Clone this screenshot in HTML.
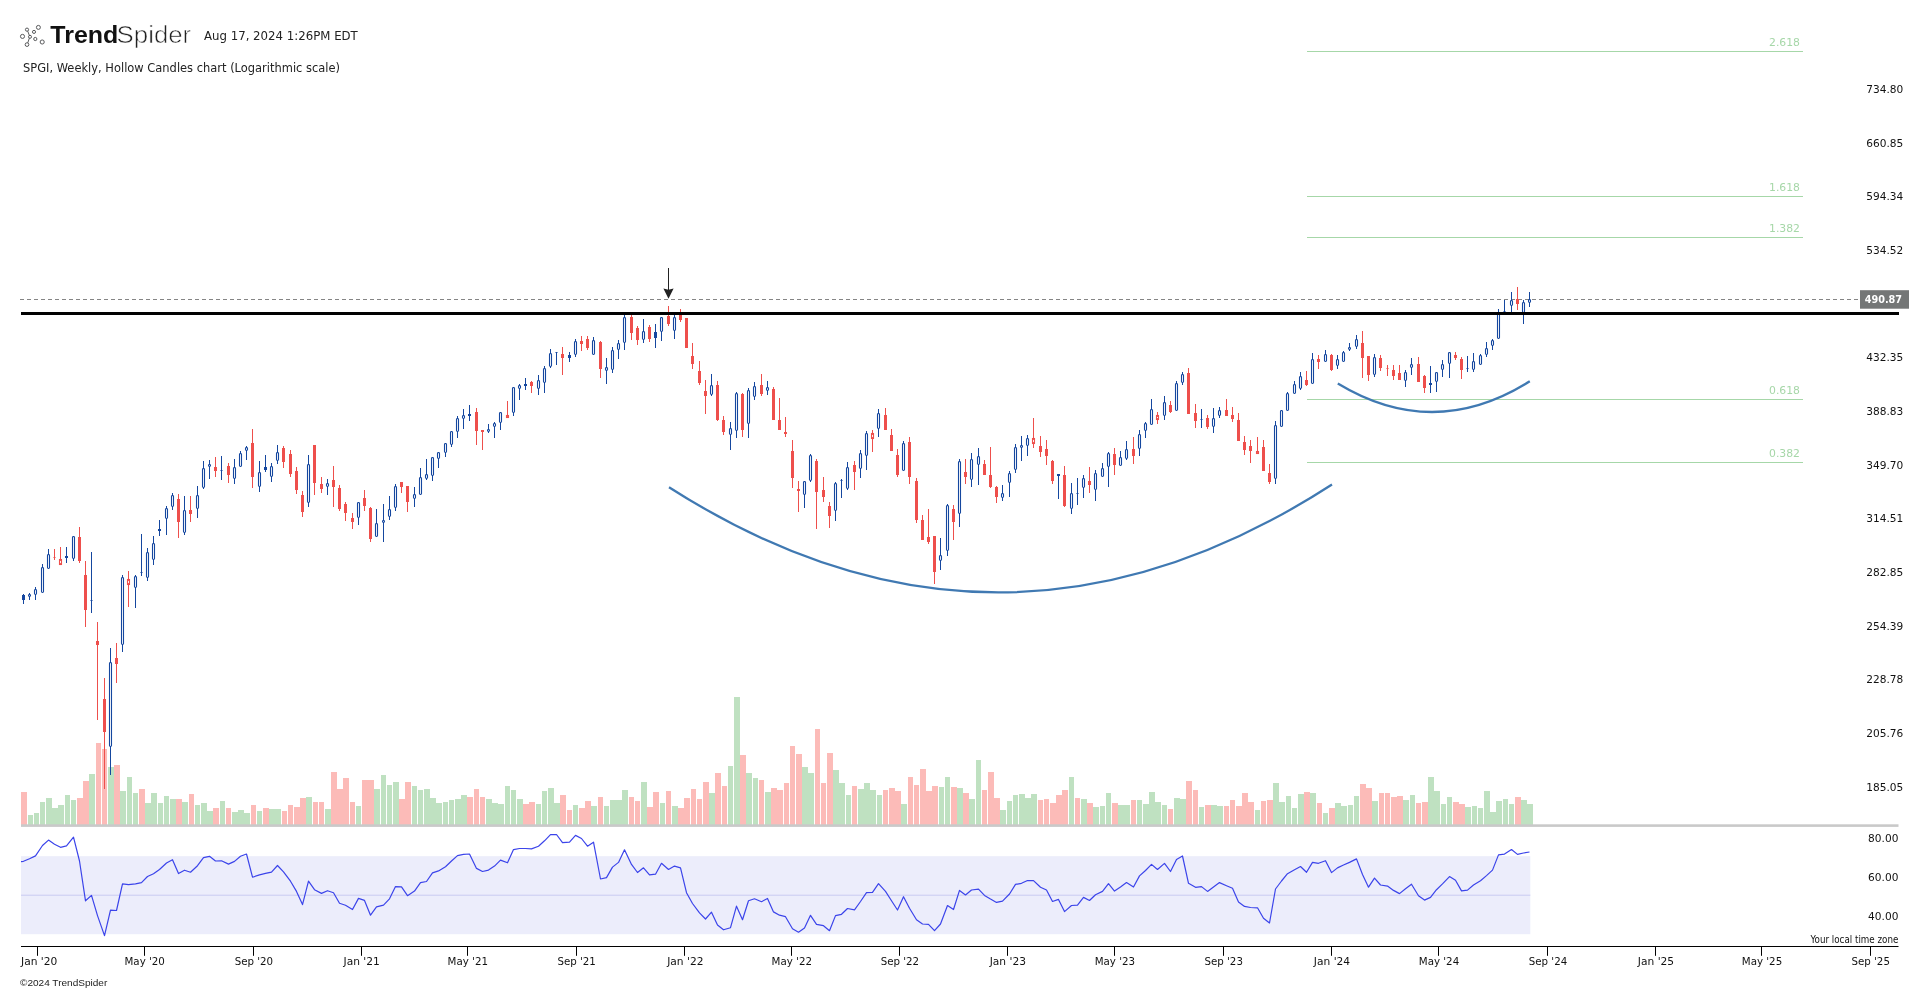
<!DOCTYPE html>
<html lang="en"><head><meta charset="utf-8"><title>SPGI Weekly - TrendSpider</title>
<style>html,body{margin:0;padding:0;background:#fff}svg{display:block;will-change:transform;opacity:0.9999}</style></head>
<body>
<svg width="1929" height="992" viewBox="0 0 1929 992">
<rect width="1929" height="992" fill="#fff"/>
<g shape-rendering="crispEdges">
<rect x="21" y="792" width="6" height="33" fill="#fcbbb8"/>
<rect x="28" y="815" width="5" height="10" fill="#bfe1c1"/>
<rect x="34" y="813" width="5" height="12" fill="#bfe1c1"/>
<rect x="40" y="802.1" width="5" height="22.9" fill="#bfe1c1"/>
<rect x="46" y="797.9" width="6" height="27.1" fill="#bfe1c1"/>
<rect x="52" y="808.1" width="6" height="16.9" fill="#bfe1c1"/>
<rect x="58" y="805.2" width="6" height="19.8" fill="#bfe1c1"/>
<rect x="65" y="795.1" width="5" height="29.9" fill="#bfe1c1"/>
<rect x="71" y="800" width="5" height="25" fill="#bfe1c1"/>
<rect x="77" y="797.9" width="6" height="27.1" fill="#fcbbb8"/>
<rect x="83" y="780.9" width="6" height="44.1" fill="#fcbbb8"/>
<rect x="89" y="774.1" width="6" height="50.9" fill="#bfe1c1"/>
<rect x="96" y="743" width="5" height="82" fill="#fcbbb8"/>
<rect x="102" y="749" width="5" height="76" fill="#fcbbb8"/>
<rect x="108" y="767.1" width="6" height="57.9" fill="#bfe1c1"/>
<rect x="114" y="765.1" width="6" height="59.9" fill="#fcbbb8"/>
<rect x="120" y="791" width="6" height="34" fill="#bfe1c1"/>
<rect x="127" y="777" width="5" height="48" fill="#bfe1c1"/>
<rect x="133" y="793.1" width="5" height="31.9" fill="#bfe1c1"/>
<rect x="139" y="788.9" width="6" height="36.1" fill="#fcbbb8"/>
<rect x="145" y="802.9" width="6" height="22.1" fill="#bfe1c1"/>
<rect x="151" y="793.1" width="6" height="31.9" fill="#bfe1c1"/>
<rect x="158" y="802.9" width="5" height="22.1" fill="#bfe1c1"/>
<rect x="164" y="796.2" width="5" height="28.8" fill="#bfe1c1"/>
<rect x="170" y="799.1" width="6" height="25.9" fill="#bfe1c1"/>
<rect x="176" y="799.1" width="6" height="25.9" fill="#fcbbb8"/>
<rect x="182" y="802.1" width="6" height="22.9" fill="#bfe1c1"/>
<rect x="189" y="794.1" width="5" height="30.9" fill="#fcbbb8"/>
<rect x="195" y="805.2" width="5" height="19.8" fill="#bfe1c1"/>
<rect x="201" y="803" width="6" height="22" fill="#bfe1c1"/>
<rect x="207" y="811" width="6" height="14" fill="#bfe1c1"/>
<rect x="213" y="808" width="6" height="17" fill="#fcbbb8"/>
<rect x="220" y="801.1" width="5" height="23.9" fill="#bfe1c1"/>
<rect x="226" y="808" width="5" height="17" fill="#fcbbb8"/>
<rect x="232" y="812.1" width="6" height="12.9" fill="#bfe1c1"/>
<rect x="238" y="810" width="6" height="15" fill="#bfe1c1"/>
<rect x="244" y="813" width="6" height="12" fill="#bfe1c1"/>
<rect x="251" y="805" width="5" height="20" fill="#fcbbb8"/>
<rect x="257" y="811" width="5" height="14" fill="#bfe1c1"/>
<rect x="263" y="808" width="6" height="17" fill="#fcbbb8"/>
<rect x="269" y="809.1" width="6" height="15.9" fill="#bfe1c1"/>
<rect x="275" y="809.1" width="6" height="15.9" fill="#bfe1c1"/>
<rect x="282" y="811" width="5" height="14" fill="#fcbbb8"/>
<rect x="288" y="805" width="5" height="20" fill="#fcbbb8"/>
<rect x="294" y="807" width="6" height="18" fill="#fcbbb8"/>
<rect x="300" y="798.1" width="6" height="26.9" fill="#fcbbb8"/>
<rect x="306" y="797" width="6" height="28" fill="#bfe1c1"/>
<rect x="313" y="802" width="5" height="23" fill="#fcbbb8"/>
<rect x="319" y="802" width="5" height="23" fill="#fcbbb8"/>
<rect x="325" y="809.1" width="6" height="15.9" fill="#bfe1c1"/>
<rect x="331" y="772.1" width="6" height="52.9" fill="#fcbbb8"/>
<rect x="337" y="789.1" width="6" height="35.9" fill="#fcbbb8"/>
<rect x="343" y="778.1" width="6" height="46.9" fill="#fcbbb8"/>
<rect x="350" y="802" width="5" height="23" fill="#fcbbb8"/>
<rect x="356" y="806.1" width="5" height="18.9" fill="#bfe1c1"/>
<rect x="362" y="780" width="6" height="45" fill="#fcbbb8"/>
<rect x="368" y="780" width="6" height="45" fill="#fcbbb8"/>
<rect x="374" y="789.1" width="6" height="35.9" fill="#bfe1c1"/>
<rect x="381" y="775.1" width="5" height="49.9" fill="#bfe1c1"/>
<rect x="387" y="785" width="5" height="40" fill="#bfe1c1"/>
<rect x="393" y="782" width="6" height="43" fill="#bfe1c1"/>
<rect x="399" y="799" width="6" height="26" fill="#fcbbb8"/>
<rect x="405" y="782" width="6" height="43" fill="#fcbbb8"/>
<rect x="412" y="786.1" width="5" height="38.9" fill="#bfe1c1"/>
<rect x="418" y="790.1" width="5" height="34.9" fill="#bfe1c1"/>
<rect x="424" y="789.1" width="6" height="35.9" fill="#bfe1c1"/>
<rect x="430" y="798.1" width="6" height="26.9" fill="#bfe1c1"/>
<rect x="436" y="803.1" width="6" height="21.9" fill="#bfe1c1"/>
<rect x="443" y="802" width="5" height="23" fill="#bfe1c1"/>
<rect x="449" y="800" width="5" height="25" fill="#bfe1c1"/>
<rect x="455" y="799" width="6" height="26" fill="#bfe1c1"/>
<rect x="461" y="795.1" width="6" height="29.9" fill="#bfe1c1"/>
<rect x="467" y="797" width="6" height="28" fill="#fcbbb8"/>
<rect x="474" y="789.1" width="5" height="35.9" fill="#fcbbb8"/>
<rect x="480" y="797" width="5" height="28" fill="#fcbbb8"/>
<rect x="486" y="799" width="6" height="26" fill="#bfe1c1"/>
<rect x="492" y="803.1" width="6" height="21.9" fill="#bfe1c1"/>
<rect x="498" y="804" width="6" height="21" fill="#bfe1c1"/>
<rect x="505" y="786.1" width="5" height="38.9" fill="#bfe1c1"/>
<rect x="511" y="790.1" width="5" height="34.9" fill="#bfe1c1"/>
<rect x="517" y="799" width="6" height="26" fill="#bfe1c1"/>
<rect x="523" y="804" width="6" height="21" fill="#fcbbb8"/>
<rect x="529" y="802" width="6" height="23" fill="#fcbbb8"/>
<rect x="536" y="804" width="5" height="21" fill="#bfe1c1"/>
<rect x="542" y="791" width="5" height="34" fill="#bfe1c1"/>
<rect x="548" y="788" width="6" height="37" fill="#bfe1c1"/>
<rect x="554" y="803.1" width="6" height="21.9" fill="#bfe1c1"/>
<rect x="560" y="795.1" width="6" height="29.9" fill="#fcbbb8"/>
<rect x="567" y="810" width="5" height="15" fill="#fcbbb8"/>
<rect x="573" y="805" width="5" height="20" fill="#bfe1c1"/>
<rect x="579" y="808" width="6" height="17" fill="#fcbbb8"/>
<rect x="585" y="801.1" width="6" height="23.9" fill="#fcbbb8"/>
<rect x="591" y="806" width="6" height="19" fill="#bfe1c1"/>
<rect x="598" y="797" width="5" height="28" fill="#fcbbb8"/>
<rect x="604" y="806" width="5" height="19" fill="#bfe1c1"/>
<rect x="610" y="800.1" width="6" height="24.9" fill="#bfe1c1"/>
<rect x="616" y="800.1" width="6" height="24.9" fill="#bfe1c1"/>
<rect x="622" y="789.9" width="6" height="35.1" fill="#bfe1c1"/>
<rect x="629" y="797" width="5" height="28" fill="#fcbbb8"/>
<rect x="635" y="801.1" width="5" height="23.9" fill="#fcbbb8"/>
<rect x="641" y="782" width="6" height="43" fill="#bfe1c1"/>
<rect x="647" y="807" width="6" height="18" fill="#fcbbb8"/>
<rect x="653" y="792" width="6" height="33" fill="#fcbbb8"/>
<rect x="660" y="802.9" width="5" height="22.1" fill="#bfe1c1"/>
<rect x="666" y="791.1" width="5" height="33.9" fill="#fcbbb8"/>
<rect x="672" y="806" width="6" height="19" fill="#bfe1c1"/>
<rect x="678" y="808" width="6" height="17" fill="#fcbbb8"/>
<rect x="684" y="798" width="6" height="27" fill="#fcbbb8"/>
<rect x="691" y="788.9" width="5" height="36.1" fill="#fcbbb8"/>
<rect x="697" y="799" width="5" height="26" fill="#fcbbb8"/>
<rect x="703" y="782" width="6" height="43" fill="#fcbbb8"/>
<rect x="709" y="793" width="6" height="32" fill="#bfe1c1"/>
<rect x="715" y="773" width="6" height="52" fill="#fcbbb8"/>
<rect x="722" y="786" width="5" height="39" fill="#fcbbb8"/>
<rect x="728" y="766.1" width="5" height="58.9" fill="#bfe1c1"/>
<rect x="734" y="696.8" width="6" height="128.2" fill="#bfe1c1"/>
<rect x="740" y="755.1" width="6" height="69.9" fill="#fcbbb8"/>
<rect x="746" y="773" width="6" height="52" fill="#bfe1c1"/>
<rect x="753" y="778.1" width="5" height="46.9" fill="#bfe1c1"/>
<rect x="759" y="780" width="5" height="45" fill="#fcbbb8"/>
<rect x="765" y="792" width="6" height="33" fill="#bfe1c1"/>
<rect x="771" y="788" width="6" height="37" fill="#fcbbb8"/>
<rect x="777" y="790" width="6" height="35" fill="#fcbbb8"/>
<rect x="784" y="783" width="5" height="42" fill="#fcbbb8"/>
<rect x="790" y="746" width="5" height="79" fill="#fcbbb8"/>
<rect x="796" y="754" width="6" height="71" fill="#fcbbb8"/>
<rect x="802" y="767.1" width="6" height="57.9" fill="#bfe1c1"/>
<rect x="808" y="773.1" width="6" height="51.9" fill="#bfe1c1"/>
<rect x="815" y="729.1" width="5" height="95.9" fill="#fcbbb8"/>
<rect x="821" y="783" width="5" height="42" fill="#fcbbb8"/>
<rect x="827" y="753" width="6" height="72" fill="#fcbbb8"/>
<rect x="833" y="770.1" width="6" height="54.9" fill="#bfe1c1"/>
<rect x="839" y="783" width="6" height="42" fill="#bfe1c1"/>
<rect x="846" y="795" width="5" height="30" fill="#bfe1c1"/>
<rect x="852" y="786.1" width="5" height="38.9" fill="#fcbbb8"/>
<rect x="858" y="789.1" width="6" height="35.9" fill="#bfe1c1"/>
<rect x="864" y="783" width="6" height="42" fill="#bfe1c1"/>
<rect x="870" y="790" width="6" height="35" fill="#bfe1c1"/>
<rect x="877" y="795" width="5" height="30" fill="#bfe1c1"/>
<rect x="883" y="790" width="5" height="35" fill="#fcbbb8"/>
<rect x="889" y="788" width="6" height="37" fill="#fcbbb8"/>
<rect x="895" y="791" width="6" height="34" fill="#fcbbb8"/>
<rect x="901" y="804" width="6" height="21" fill="#bfe1c1"/>
<rect x="908" y="777" width="5" height="48" fill="#fcbbb8"/>
<rect x="914" y="785" width="5" height="40" fill="#fcbbb8"/>
<rect x="920" y="769" width="6" height="56" fill="#fcbbb8"/>
<rect x="926" y="791" width="6" height="34" fill="#fcbbb8"/>
<rect x="932" y="786" width="6" height="39" fill="#fcbbb8"/>
<rect x="939" y="787" width="5" height="38" fill="#bfe1c1"/>
<rect x="945" y="777" width="5" height="48" fill="#bfe1c1"/>
<rect x="951" y="787" width="6" height="38" fill="#fcbbb8"/>
<rect x="957" y="788" width="6" height="37" fill="#bfe1c1"/>
<rect x="963" y="793" width="6" height="32" fill="#fcbbb8"/>
<rect x="969" y="799" width="6" height="26" fill="#bfe1c1"/>
<rect x="976" y="760" width="5" height="65" fill="#bfe1c1"/>
<rect x="982" y="790.1" width="5" height="34.9" fill="#fcbbb8"/>
<rect x="988" y="772.1" width="6" height="52.9" fill="#fcbbb8"/>
<rect x="994" y="798.1" width="6" height="26.9" fill="#fcbbb8"/>
<rect x="1000" y="810" width="6" height="15" fill="#bfe1c1"/>
<rect x="1007" y="801.1" width="5" height="23.9" fill="#bfe1c1"/>
<rect x="1013" y="795.1" width="5" height="29.9" fill="#bfe1c1"/>
<rect x="1019" y="794" width="6" height="31" fill="#bfe1c1"/>
<rect x="1025" y="798.1" width="6" height="26.9" fill="#bfe1c1"/>
<rect x="1031" y="794" width="6" height="31" fill="#bfe1c1"/>
<rect x="1038" y="800" width="5" height="25" fill="#fcbbb8"/>
<rect x="1044" y="799" width="5" height="26" fill="#fcbbb8"/>
<rect x="1050" y="803.1" width="6" height="21.9" fill="#fcbbb8"/>
<rect x="1056" y="795.1" width="6" height="29.9" fill="#fcbbb8"/>
<rect x="1062" y="790.1" width="6" height="34.9" fill="#fcbbb8"/>
<rect x="1069" y="777" width="5" height="48" fill="#bfe1c1"/>
<rect x="1075" y="798.1" width="5" height="26.9" fill="#fcbbb8"/>
<rect x="1081" y="799" width="6" height="26" fill="#bfe1c1"/>
<rect x="1087" y="803.1" width="6" height="21.9" fill="#fcbbb8"/>
<rect x="1093" y="807" width="6" height="18" fill="#bfe1c1"/>
<rect x="1100" y="806.1" width="5" height="18.9" fill="#bfe1c1"/>
<rect x="1106" y="793" width="5" height="32" fill="#bfe1c1"/>
<rect x="1112" y="803.1" width="6" height="21.9" fill="#fcbbb8"/>
<rect x="1118" y="805" width="6" height="20" fill="#bfe1c1"/>
<rect x="1124" y="805" width="6" height="20" fill="#bfe1c1"/>
<rect x="1131" y="800" width="5" height="25" fill="#fcbbb8"/>
<rect x="1137" y="800" width="5" height="25" fill="#bfe1c1"/>
<rect x="1143" y="804" width="6" height="21" fill="#bfe1c1"/>
<rect x="1149" y="792.1" width="6" height="32.9" fill="#bfe1c1"/>
<rect x="1155" y="802" width="6" height="23" fill="#bfe1c1"/>
<rect x="1162" y="805" width="5" height="20" fill="#bfe1c1"/>
<rect x="1168" y="809.1" width="5" height="15.9" fill="#fcbbb8"/>
<rect x="1174" y="798.1" width="6" height="26.9" fill="#bfe1c1"/>
<rect x="1180" y="799" width="6" height="26" fill="#bfe1c1"/>
<rect x="1186" y="781" width="6" height="44" fill="#fcbbb8"/>
<rect x="1193" y="790.1" width="5" height="34.9" fill="#fcbbb8"/>
<rect x="1199" y="807" width="5" height="18" fill="#bfe1c1"/>
<rect x="1205" y="805" width="6" height="20" fill="#fcbbb8"/>
<rect x="1211" y="805" width="6" height="20" fill="#bfe1c1"/>
<rect x="1217" y="806.1" width="6" height="18.9" fill="#bfe1c1"/>
<rect x="1224" y="806.1" width="5" height="18.9" fill="#fcbbb8"/>
<rect x="1230" y="800" width="5" height="25" fill="#fcbbb8"/>
<rect x="1236" y="806.1" width="6" height="18.9" fill="#fcbbb8"/>
<rect x="1242" y="793" width="6" height="32" fill="#fcbbb8"/>
<rect x="1248" y="802" width="6" height="23" fill="#fcbbb8"/>
<rect x="1255" y="810" width="5" height="15" fill="#bfe1c1"/>
<rect x="1261" y="801.1" width="5" height="23.9" fill="#fcbbb8"/>
<rect x="1267" y="800" width="6" height="25" fill="#fcbbb8"/>
<rect x="1273" y="783" width="6" height="42" fill="#bfe1c1"/>
<rect x="1279" y="802" width="6" height="23" fill="#bfe1c1"/>
<rect x="1286" y="796" width="5" height="29" fill="#bfe1c1"/>
<rect x="1292" y="808" width="5" height="17" fill="#bfe1c1"/>
<rect x="1298" y="794" width="6" height="31" fill="#bfe1c1"/>
<rect x="1304" y="792.1" width="6" height="32.9" fill="#fcbbb8"/>
<rect x="1310" y="793" width="6" height="32" fill="#bfe1c1"/>
<rect x="1317" y="803.1" width="5" height="21.9" fill="#fcbbb8"/>
<rect x="1323" y="813" width="5" height="12" fill="#bfe1c1"/>
<rect x="1329" y="808" width="6" height="17" fill="#fcbbb8"/>
<rect x="1335" y="803.1" width="6" height="21.9" fill="#bfe1c1"/>
<rect x="1341" y="806.1" width="6" height="18.9" fill="#bfe1c1"/>
<rect x="1348" y="805" width="5" height="20" fill="#bfe1c1"/>
<rect x="1354" y="796" width="5" height="29" fill="#bfe1c1"/>
<rect x="1360" y="784" width="6" height="41" fill="#fcbbb8"/>
<rect x="1366" y="788" width="6" height="37" fill="#fcbbb8"/>
<rect x="1372" y="801.1" width="6" height="23.9" fill="#bfe1c1"/>
<rect x="1379" y="793" width="5" height="32" fill="#fcbbb8"/>
<rect x="1385" y="793" width="5" height="32" fill="#fcbbb8"/>
<rect x="1391" y="797" width="6" height="28" fill="#fcbbb8"/>
<rect x="1397" y="796" width="6" height="29" fill="#fcbbb8"/>
<rect x="1403" y="800" width="6" height="25" fill="#bfe1c1"/>
<rect x="1410" y="795.1" width="5" height="29.9" fill="#bfe1c1"/>
<rect x="1416" y="803.1" width="5" height="21.9" fill="#fcbbb8"/>
<rect x="1422" y="802" width="6" height="23" fill="#fcbbb8"/>
<rect x="1428" y="777" width="6" height="48" fill="#bfe1c1"/>
<rect x="1434" y="791" width="6" height="34" fill="#bfe1c1"/>
<rect x="1441" y="804" width="5" height="21" fill="#bfe1c1"/>
<rect x="1447" y="797" width="5" height="28" fill="#bfe1c1"/>
<rect x="1453" y="802" width="6" height="23" fill="#fcbbb8"/>
<rect x="1459" y="804" width="6" height="21" fill="#fcbbb8"/>
<rect x="1465" y="807" width="6" height="18" fill="#bfe1c1"/>
<rect x="1472" y="806.1" width="5" height="18.9" fill="#bfe1c1"/>
<rect x="1478" y="808" width="5" height="17" fill="#bfe1c1"/>
<rect x="1484" y="791" width="6" height="34" fill="#bfe1c1"/>
<rect x="1490" y="812.1" width="6" height="12.9" fill="#bfe1c1"/>
<rect x="1496" y="801.1" width="6" height="23.9" fill="#bfe1c1"/>
<rect x="1503" y="799" width="5" height="26" fill="#bfe1c1"/>
<rect x="1509" y="804" width="5" height="21" fill="#bfe1c1"/>
<rect x="1515" y="797" width="6" height="28" fill="#fcbbb8"/>
<rect x="1521" y="800" width="6" height="25" fill="#bfe1c1"/>
<rect x="1527" y="804" width="6" height="21" fill="#bfe1c1"/>
</g>
<rect x="21" y="824.3" width="1877.5" height="2.6" fill="#c9c9c9"/>
<rect x="1307" y="51.0" width="496" height="1" fill="#a6d7a8"/>
<text x="1800" y="46.0" text-anchor="end" font-family="'DejaVu Sans','Liberation Sans',sans-serif" font-size="10.5" fill="#a6d7a8" textLength="31" lengthAdjust="spacingAndGlyphs">2.618</text>
<rect x="1307" y="196.0" width="496" height="1" fill="#a6d7a8"/>
<text x="1800" y="191.0" text-anchor="end" font-family="'DejaVu Sans','Liberation Sans',sans-serif" font-size="10.5" fill="#a6d7a8" textLength="31" lengthAdjust="spacingAndGlyphs">1.618</text>
<rect x="1307" y="237.0" width="496" height="1" fill="#a6d7a8"/>
<text x="1800" y="232.0" text-anchor="end" font-family="'DejaVu Sans','Liberation Sans',sans-serif" font-size="10.5" fill="#a6d7a8" textLength="31" lengthAdjust="spacingAndGlyphs">1.382</text>
<rect x="1307" y="399.0" width="496" height="1" fill="#a6d7a8"/>
<text x="1800" y="394.0" text-anchor="end" font-family="'DejaVu Sans','Liberation Sans',sans-serif" font-size="10.5" fill="#a6d7a8" textLength="31" lengthAdjust="spacingAndGlyphs">0.618</text>
<rect x="1307" y="462.0" width="496" height="1" fill="#a6d7a8"/>
<text x="1800" y="457.0" text-anchor="end" font-family="'DejaVu Sans','Liberation Sans',sans-serif" font-size="10.5" fill="#a6d7a8" textLength="31" lengthAdjust="spacingAndGlyphs">0.382</text>
<line x1="20" y1="299.5" x2="1858" y2="299.5" stroke="#858585" stroke-width="1" stroke-dasharray="4 3"/>
<g>
<rect x="23.0" y="594" width="1" height="10" fill="#15479f"/>
<rect x="22.0" y="595" width="3" height="5" fill="#15479f"/>
<rect x="29.0" y="593" width="1" height="2" fill="#15479f"/>
<rect x="29.0" y="596" width="1" height="4" fill="#15479f"/>
<rect x="28.5" y="594.5" width="2" height="2" rx="0.9" ry="0.9" fill="#fff" stroke="#15479f" stroke-width="1.1"/>
<rect x="35.0" y="587" width="1" height="3" fill="#15479f"/>
<rect x="35.0" y="594" width="1" height="6" fill="#15479f"/>
<rect x="34.5" y="589.5" width="2" height="5" rx="0.9" ry="0.9" fill="#fff" stroke="#15479f" stroke-width="1.1"/>
<rect x="42.0" y="564" width="1" height="4" fill="#15479f"/>
<rect x="41.5" y="567.5" width="2" height="25" rx="0.9" ry="0.9" fill="#fff" stroke="#15479f" stroke-width="1.1"/>
<rect x="48.0" y="549" width="1" height="6" fill="#15479f"/>
<rect x="47.5" y="554.5" width="2" height="14" rx="0.9" ry="0.9" fill="#fff" stroke="#15479f" stroke-width="1.1"/>
<rect x="54.0" y="549" width="1" height="11" fill="#ee4f4c"/>
<rect x="53.0" y="557" width="3" height="1" fill="#ee4f4c" opacity="0.5"/>
<rect x="60.0" y="547" width="1" height="13" fill="#ee4f4c"/>
<rect x="59.5" y="559.5" width="2" height="5" rx="0" ry="0" fill="#fff" stroke="#ee4f4c" stroke-width="1.1"/>
<rect x="66.0" y="547" width="1" height="16" fill="#15479f"/>
<rect x="65.0" y="556" width="3" height="2" fill="#15479f"/>
<rect x="73.0" y="558" width="1" height="3" fill="#15479f"/>
<rect x="72.5" y="536.5" width="2" height="22" rx="0.9" ry="0.9" fill="#fff" stroke="#15479f" stroke-width="1.1"/>
<rect x="79.0" y="527" width="1" height="36" fill="#ee4f4c"/>
<rect x="78.0" y="537" width="3" height="24" fill="#ee4f4c"/>
<rect x="85.0" y="561" width="1" height="66" fill="#ee4f4c"/>
<rect x="84.0" y="575" width="3" height="35" fill="#ee4f4c"/>
<rect x="91.0" y="552" width="1" height="61" fill="#15479f"/>
<rect x="90.0" y="600" width="3" height="1" fill="#15479f" opacity="0.5"/>
<rect x="97.0" y="622" width="1" height="98" fill="#ee4f4c"/>
<rect x="96.0" y="641" width="3" height="4" fill="#ee4f4c"/>
<rect x="104.0" y="678" width="1" height="111" fill="#ee4f4c"/>
<rect x="103.0" y="699" width="3" height="33" fill="#ee4f4c"/>
<rect x="110.0" y="648" width="1" height="15" fill="#15479f"/>
<rect x="110.0" y="746" width="1" height="29" fill="#15479f"/>
<rect x="109.5" y="662.5" width="2" height="84" rx="0.9" ry="0.9" fill="#fff" stroke="#15479f" stroke-width="1.1"/>
<rect x="116.0" y="643" width="1" height="40" fill="#ee4f4c"/>
<rect x="115.0" y="658" width="3" height="6" fill="#ee4f4c"/>
<rect x="122.0" y="575" width="1" height="3" fill="#15479f"/>
<rect x="122.0" y="644" width="1" height="8" fill="#15479f"/>
<rect x="121.5" y="577.5" width="2" height="67" rx="0.9" ry="0.9" fill="#fff" stroke="#15479f" stroke-width="1.1"/>
<rect x="128.0" y="571" width="1" height="9" fill="#ee4f4c"/>
<rect x="128.0" y="584" width="1" height="23" fill="#ee4f4c"/>
<rect x="127.5" y="579.5" width="2" height="5" rx="0" ry="0" fill="#fff" stroke="#ee4f4c" stroke-width="1.1"/>
<rect x="135.0" y="575" width="1" height="2" fill="#15479f"/>
<rect x="135.0" y="587" width="1" height="21" fill="#15479f"/>
<rect x="134.5" y="576.5" width="2" height="11" rx="0.9" ry="0.9" fill="#fff" stroke="#15479f" stroke-width="1.1"/>
<rect x="141.0" y="534" width="1" height="42" fill="#15479f"/>
<rect x="140.0" y="572" width="3" height="1" fill="#15479f" opacity="0.5"/>
<rect x="147.0" y="548" width="1" height="5" fill="#15479f"/>
<rect x="147.0" y="577" width="1" height="4" fill="#15479f"/>
<rect x="146.5" y="552.5" width="2" height="25" rx="0.9" ry="0.9" fill="#fff" stroke="#15479f" stroke-width="1.1"/>
<rect x="153.0" y="536" width="1" height="8" fill="#15479f"/>
<rect x="153.0" y="559" width="1" height="6" fill="#15479f"/>
<rect x="152.5" y="543.5" width="2" height="16" rx="0.9" ry="0.9" fill="#fff" stroke="#15479f" stroke-width="1.1"/>
<rect x="159.0" y="520" width="1" height="16" fill="#15479f"/>
<rect x="158.0" y="529" width="3" height="2" fill="#15479f"/>
<rect x="166.0" y="506" width="1" height="3" fill="#15479f"/>
<rect x="166.0" y="518" width="1" height="17" fill="#15479f"/>
<rect x="165.5" y="508.5" width="2" height="10" rx="0.9" ry="0.9" fill="#fff" stroke="#15479f" stroke-width="1.1"/>
<rect x="172.0" y="493" width="1" height="3" fill="#15479f"/>
<rect x="172.0" y="506" width="1" height="4" fill="#15479f"/>
<rect x="171.5" y="495.5" width="2" height="11" rx="0.9" ry="0.9" fill="#fff" stroke="#15479f" stroke-width="1.1"/>
<rect x="178.0" y="494" width="1" height="44" fill="#ee4f4c"/>
<rect x="177.0" y="499" width="3" height="23" fill="#ee4f4c"/>
<rect x="184.0" y="496" width="1" height="15" fill="#15479f"/>
<rect x="184.0" y="532" width="1" height="3" fill="#15479f"/>
<rect x="183.5" y="510.5" width="2" height="22" rx="0.9" ry="0.9" fill="#fff" stroke="#15479f" stroke-width="1.1"/>
<rect x="190.0" y="496" width="1" height="26" fill="#ee4f4c"/>
<rect x="189.0" y="510" width="3" height="4" fill="#ee4f4c"/>
<rect x="197.0" y="486" width="1" height="10" fill="#15479f"/>
<rect x="197.0" y="508" width="1" height="10" fill="#15479f"/>
<rect x="196.5" y="495.5" width="2" height="13" rx="0.9" ry="0.9" fill="#fff" stroke="#15479f" stroke-width="1.1"/>
<rect x="203.0" y="461" width="1" height="8" fill="#15479f"/>
<rect x="203.0" y="487" width="1" height="2" fill="#15479f"/>
<rect x="202.5" y="468.5" width="2" height="19" rx="0.9" ry="0.9" fill="#fff" stroke="#15479f" stroke-width="1.1"/>
<rect x="209.0" y="460" width="1" height="5" fill="#15479f"/>
<rect x="209.0" y="466" width="1" height="13" fill="#15479f"/>
<rect x="208.5" y="464.5" width="2" height="2" rx="0.9" ry="0.9" fill="#fff" stroke="#15479f" stroke-width="1.1"/>
<rect x="215.0" y="457" width="1" height="20" fill="#ee4f4c"/>
<rect x="214.0" y="467" width="3" height="4" fill="#ee4f4c"/>
<rect x="221.0" y="456" width="1" height="24" fill="#15479f"/>
<rect x="220.0" y="470" width="3" height="1" fill="#15479f" opacity="0.5"/>
<rect x="228.0" y="463" width="1" height="20" fill="#ee4f4c"/>
<rect x="227.0" y="466" width="3" height="9" fill="#ee4f4c"/>
<rect x="234.0" y="459" width="1" height="9" fill="#15479f"/>
<rect x="234.0" y="478" width="1" height="6" fill="#15479f"/>
<rect x="233.5" y="467.5" width="2" height="11" rx="0.9" ry="0.9" fill="#fff" stroke="#15479f" stroke-width="1.1"/>
<rect x="240.0" y="451" width="1" height="3" fill="#15479f"/>
<rect x="239.5" y="453.5" width="2" height="13" rx="0.9" ry="0.9" fill="#fff" stroke="#15479f" stroke-width="1.1"/>
<rect x="246.0" y="446" width="1" height="2" fill="#15479f"/>
<rect x="246.0" y="450" width="1" height="10" fill="#15479f"/>
<rect x="245.5" y="447.5" width="2" height="3" rx="0.9" ry="0.9" fill="#fff" stroke="#15479f" stroke-width="1.1"/>
<rect x="252.0" y="429" width="1" height="59" fill="#ee4f4c"/>
<rect x="251.0" y="443" width="3" height="34" fill="#ee4f4c"/>
<rect x="259.0" y="461" width="1" height="12" fill="#15479f"/>
<rect x="259.0" y="486" width="1" height="6" fill="#15479f"/>
<rect x="258.5" y="472.5" width="2" height="14" rx="0.9" ry="0.9" fill="#fff" stroke="#15479f" stroke-width="1.1"/>
<rect x="265.0" y="455" width="1" height="17" fill="#15479f"/>
<rect x="264.0" y="467" width="3" height="3" fill="#15479f"/>
<rect x="271.0" y="463" width="1" height="4" fill="#15479f"/>
<rect x="271.0" y="476" width="1" height="6" fill="#15479f"/>
<rect x="270.5" y="466.5" width="2" height="10" rx="0.9" ry="0.9" fill="#fff" stroke="#15479f" stroke-width="1.1"/>
<rect x="277.0" y="445" width="1" height="8" fill="#15479f"/>
<rect x="277.0" y="460" width="1" height="4" fill="#15479f"/>
<rect x="276.5" y="452.5" width="2" height="8" rx="0.9" ry="0.9" fill="#fff" stroke="#15479f" stroke-width="1.1"/>
<rect x="283.0" y="446" width="1" height="22" fill="#ee4f4c"/>
<rect x="282.0" y="448" width="3" height="14" fill="#ee4f4c"/>
<rect x="290.0" y="450" width="1" height="27" fill="#ee4f4c"/>
<rect x="289.0" y="454" width="3" height="20" fill="#ee4f4c"/>
<rect x="296.0" y="467" width="1" height="27" fill="#ee4f4c"/>
<rect x="295.0" y="471" width="3" height="19" fill="#ee4f4c"/>
<rect x="302.0" y="491" width="1" height="26" fill="#ee4f4c"/>
<rect x="301.0" y="495" width="3" height="17" fill="#ee4f4c"/>
<rect x="308.0" y="455" width="1" height="10" fill="#15479f"/>
<rect x="308.0" y="502" width="1" height="5" fill="#15479f"/>
<rect x="307.5" y="464.5" width="2" height="38" rx="0.9" ry="0.9" fill="#fff" stroke="#15479f" stroke-width="1.1"/>
<rect x="314.0" y="445" width="1" height="50" fill="#ee4f4c"/>
<rect x="313.0" y="445" width="3" height="38" fill="#ee4f4c"/>
<rect x="321.0" y="477" width="1" height="16" fill="#ee4f4c"/>
<rect x="320.0" y="484" width="3" height="5" fill="#ee4f4c"/>
<rect x="327.0" y="479" width="1" height="5" fill="#15479f"/>
<rect x="327.0" y="486" width="1" height="9" fill="#15479f"/>
<rect x="326.5" y="483.5" width="2" height="3" rx="0.9" ry="0.9" fill="#fff" stroke="#15479f" stroke-width="1.1"/>
<rect x="333.0" y="466" width="1" height="41" fill="#ee4f4c"/>
<rect x="332.0" y="480" width="3" height="7" fill="#ee4f4c"/>
<rect x="339.0" y="485" width="1" height="26" fill="#ee4f4c"/>
<rect x="338.0" y="488" width="3" height="21" fill="#ee4f4c"/>
<rect x="345.0" y="502" width="1" height="19" fill="#ee4f4c"/>
<rect x="344.0" y="504" width="3" height="9" fill="#ee4f4c"/>
<rect x="352.0" y="513" width="1" height="16" fill="#ee4f4c"/>
<rect x="351.0" y="518" width="3" height="4" fill="#ee4f4c"/>
<rect x="358.0" y="517" width="1" height="8" fill="#15479f"/>
<rect x="357.5" y="502.5" width="2" height="15" rx="0.9" ry="0.9" fill="#fff" stroke="#15479f" stroke-width="1.1"/>
<rect x="364.0" y="490" width="1" height="21" fill="#ee4f4c"/>
<rect x="363.0" y="498" width="3" height="8" fill="#ee4f4c"/>
<rect x="370.0" y="507" width="1" height="35" fill="#ee4f4c"/>
<rect x="369.0" y="508" width="3" height="31" fill="#ee4f4c"/>
<rect x="376.0" y="509" width="1" height="15" fill="#15479f"/>
<rect x="375.5" y="523.5" width="2" height="13" rx="0.9" ry="0.9" fill="#fff" stroke="#15479f" stroke-width="1.1"/>
<rect x="383.0" y="504" width="1" height="17" fill="#15479f"/>
<rect x="383.0" y="522" width="1" height="20" fill="#15479f"/>
<rect x="382.5" y="520.5" width="2" height="2" rx="0.9" ry="0.9" fill="#fff" stroke="#15479f" stroke-width="1.1"/>
<rect x="389.0" y="496" width="1" height="14" fill="#15479f"/>
<rect x="389.0" y="516" width="1" height="4" fill="#15479f"/>
<rect x="388.5" y="509.5" width="2" height="7" rx="0.9" ry="0.9" fill="#fff" stroke="#15479f" stroke-width="1.1"/>
<rect x="395.0" y="484" width="1" height="3" fill="#15479f"/>
<rect x="395.0" y="507" width="1" height="4" fill="#15479f"/>
<rect x="394.5" y="486.5" width="2" height="21" rx="0.9" ry="0.9" fill="#fff" stroke="#15479f" stroke-width="1.1"/>
<rect x="401.0" y="482" width="1" height="11" fill="#ee4f4c"/>
<rect x="400.0" y="482" width="3" height="5" fill="#ee4f4c"/>
<rect x="407.0" y="486" width="1" height="26" fill="#ee4f4c"/>
<rect x="406.0" y="486" width="3" height="16" fill="#ee4f4c"/>
<rect x="414.0" y="487" width="1" height="8" fill="#15479f"/>
<rect x="414.0" y="498" width="1" height="9" fill="#15479f"/>
<rect x="413.5" y="494.5" width="2" height="4" rx="0.9" ry="0.9" fill="#fff" stroke="#15479f" stroke-width="1.1"/>
<rect x="420.0" y="468" width="1" height="10" fill="#15479f"/>
<rect x="419.5" y="477.5" width="2" height="17" rx="0.9" ry="0.9" fill="#fff" stroke="#15479f" stroke-width="1.1"/>
<rect x="426.0" y="459" width="1" height="16" fill="#15479f"/>
<rect x="426.0" y="478" width="1" height="2" fill="#15479f"/>
<rect x="425.5" y="474.5" width="2" height="4" rx="0.9" ry="0.9" fill="#fff" stroke="#15479f" stroke-width="1.1"/>
<rect x="432.0" y="475" width="1" height="6" fill="#15479f"/>
<rect x="431.5" y="457.5" width="2" height="18" rx="0.9" ry="0.9" fill="#fff" stroke="#15479f" stroke-width="1.1"/>
<rect x="438.0" y="458" width="1" height="10" fill="#15479f"/>
<rect x="437.5" y="452.5" width="2" height="6" rx="0.9" ry="0.9" fill="#fff" stroke="#15479f" stroke-width="1.1"/>
<rect x="445.0" y="452" width="1" height="5" fill="#15479f"/>
<rect x="444.5" y="443.5" width="2" height="9" rx="0.9" ry="0.9" fill="#fff" stroke="#15479f" stroke-width="1.1"/>
<rect x="451.0" y="444" width="1" height="3" fill="#15479f"/>
<rect x="450.5" y="431.5" width="2" height="13" rx="0.9" ry="0.9" fill="#fff" stroke="#15479f" stroke-width="1.1"/>
<rect x="457.0" y="416" width="1" height="3" fill="#15479f"/>
<rect x="457.0" y="431" width="1" height="7" fill="#15479f"/>
<rect x="456.5" y="418.5" width="2" height="13" rx="0.9" ry="0.9" fill="#fff" stroke="#15479f" stroke-width="1.1"/>
<rect x="463.0" y="409" width="1" height="7" fill="#15479f"/>
<rect x="463.0" y="418" width="1" height="11" fill="#15479f"/>
<rect x="462.5" y="415.5" width="2" height="3" rx="0.9" ry="0.9" fill="#fff" stroke="#15479f" stroke-width="1.1"/>
<rect x="469.0" y="405" width="1" height="16" fill="#15479f"/>
<rect x="468.0" y="414" width="3" height="2" fill="#15479f"/>
<rect x="476.0" y="408" width="1" height="37" fill="#ee4f4c"/>
<rect x="475.0" y="412" width="3" height="19" fill="#ee4f4c"/>
<rect x="482.0" y="430" width="1" height="20" fill="#ee4f4c"/>
<rect x="481.0" y="430" width="3" height="2" fill="#ee4f4c"/>
<rect x="488.0" y="424" width="1" height="6" fill="#15479f"/>
<rect x="488.0" y="431" width="1" height="2" fill="#15479f"/>
<rect x="487.5" y="429.5" width="2" height="2" rx="0.9" ry="0.9" fill="#fff" stroke="#15479f" stroke-width="1.1"/>
<rect x="494.0" y="422" width="1" height="2" fill="#15479f"/>
<rect x="494.0" y="426" width="1" height="12" fill="#15479f"/>
<rect x="493.5" y="423.5" width="2" height="3" rx="0.9" ry="0.9" fill="#fff" stroke="#15479f" stroke-width="1.1"/>
<rect x="500.0" y="422" width="1" height="8" fill="#15479f"/>
<rect x="499.5" y="412.5" width="2" height="10" rx="0.9" ry="0.9" fill="#fff" stroke="#15479f" stroke-width="1.1"/>
<rect x="507.0" y="401" width="1" height="15" fill="#ee4f4c"/>
<rect x="506.5" y="415.5" width="2" height="2" rx="0" ry="0" fill="#fff" stroke="#ee4f4c" stroke-width="1.1"/>
<rect x="513.0" y="412" width="1" height="4" fill="#15479f"/>
<rect x="512.5" y="387.5" width="2" height="25" rx="0.9" ry="0.9" fill="#fff" stroke="#15479f" stroke-width="1.1"/>
<rect x="519.0" y="384" width="1" height="2" fill="#15479f"/>
<rect x="519.0" y="388" width="1" height="12" fill="#15479f"/>
<rect x="518.5" y="385.5" width="2" height="3" rx="0.9" ry="0.9" fill="#fff" stroke="#15479f" stroke-width="1.1"/>
<rect x="525.0" y="378" width="1" height="12" fill="#15479f"/>
<rect x="524.0" y="384" width="3" height="2" fill="#15479f"/>
<rect x="531.0" y="381" width="1" height="12" fill="#ee4f4c"/>
<rect x="530.0" y="382" width="3" height="4" fill="#ee4f4c"/>
<rect x="538.0" y="375" width="1" height="6" fill="#15479f"/>
<rect x="538.0" y="388" width="1" height="7" fill="#15479f"/>
<rect x="537.5" y="380.5" width="2" height="8" rx="0.9" ry="0.9" fill="#fff" stroke="#15479f" stroke-width="1.1"/>
<rect x="544.0" y="366" width="1" height="3" fill="#15479f"/>
<rect x="544.0" y="382" width="1" height="11" fill="#15479f"/>
<rect x="543.5" y="368.5" width="2" height="14" rx="0.9" ry="0.9" fill="#fff" stroke="#15479f" stroke-width="1.1"/>
<rect x="550.0" y="349" width="1" height="5" fill="#15479f"/>
<rect x="550.0" y="366" width="1" height="2" fill="#15479f"/>
<rect x="549.5" y="353.5" width="2" height="13" rx="0.9" ry="0.9" fill="#fff" stroke="#15479f" stroke-width="1.1"/>
<rect x="556.0" y="352" width="1" height="13" fill="#15479f"/>
<rect x="555.0" y="352" width="3" height="1" fill="#15479f" opacity="0.5"/>
<rect x="562.0" y="347" width="1" height="28" fill="#ee4f4c"/>
<rect x="561.0" y="354" width="3" height="4" fill="#ee4f4c"/>
<rect x="569.0" y="352" width="1" height="10" fill="#15479f"/>
<rect x="568.0" y="355" width="3" height="3" fill="#15479f"/>
<rect x="575.0" y="339" width="1" height="3" fill="#15479f"/>
<rect x="575.0" y="354" width="1" height="3" fill="#15479f"/>
<rect x="574.5" y="341.5" width="2" height="13" rx="0.9" ry="0.9" fill="#fff" stroke="#15479f" stroke-width="1.1"/>
<rect x="581.0" y="336" width="1" height="15" fill="#ee4f4c"/>
<rect x="580.0" y="341" width="3" height="3" fill="#ee4f4c"/>
<rect x="587.0" y="336" width="1" height="14" fill="#ee4f4c"/>
<rect x="586.0" y="339" width="3" height="9" fill="#ee4f4c"/>
<rect x="593.0" y="337" width="1" height="4" fill="#15479f"/>
<rect x="592.5" y="340.5" width="2" height="14" rx="0.9" ry="0.9" fill="#fff" stroke="#15479f" stroke-width="1.1"/>
<rect x="600.0" y="341" width="1" height="37" fill="#ee4f4c"/>
<rect x="599.0" y="342" width="3" height="27" fill="#ee4f4c"/>
<rect x="606.0" y="358" width="1" height="10" fill="#15479f"/>
<rect x="606.0" y="370" width="1" height="14" fill="#15479f"/>
<rect x="605.5" y="367.5" width="2" height="3" rx="0.9" ry="0.9" fill="#fff" stroke="#15479f" stroke-width="1.1"/>
<rect x="612.0" y="347" width="1" height="4" fill="#15479f"/>
<rect x="612.0" y="369" width="1" height="4" fill="#15479f"/>
<rect x="611.5" y="350.5" width="2" height="19" rx="0.9" ry="0.9" fill="#fff" stroke="#15479f" stroke-width="1.1"/>
<rect x="618.0" y="340" width="1" height="4" fill="#15479f"/>
<rect x="618.0" y="349" width="1" height="10" fill="#15479f"/>
<rect x="617.5" y="343.5" width="2" height="6" rx="0.9" ry="0.9" fill="#fff" stroke="#15479f" stroke-width="1.1"/>
<rect x="624.0" y="315" width="1" height="3" fill="#15479f"/>
<rect x="624.0" y="342" width="1" height="8" fill="#15479f"/>
<rect x="623.5" y="317.5" width="2" height="25" rx="0.9" ry="0.9" fill="#fff" stroke="#15479f" stroke-width="1.1"/>
<rect x="631.0" y="315" width="1" height="25" fill="#ee4f4c"/>
<rect x="630.0" y="317" width="3" height="16" fill="#ee4f4c"/>
<rect x="637.0" y="326" width="1" height="19" fill="#ee4f4c"/>
<rect x="636.0" y="328" width="3" height="12" fill="#ee4f4c"/>
<rect x="643.0" y="319" width="1" height="13" fill="#15479f"/>
<rect x="643.0" y="339" width="1" height="4" fill="#15479f"/>
<rect x="642.5" y="331.5" width="2" height="8" rx="0.9" ry="0.9" fill="#fff" stroke="#15479f" stroke-width="1.1"/>
<rect x="649.0" y="325" width="1" height="17" fill="#ee4f4c"/>
<rect x="648.0" y="327" width="3" height="12" fill="#ee4f4c"/>
<rect x="655.0" y="324" width="1" height="24" fill="#15479f"/>
<rect x="654.0" y="332" width="3" height="6" fill="#15479f"/>
<rect x="661.0" y="331" width="1" height="10" fill="#15479f"/>
<rect x="660.5" y="317.5" width="2" height="14" rx="0.9" ry="0.9" fill="#fff" stroke="#15479f" stroke-width="1.1"/>
<rect x="668.0" y="306" width="1" height="20" fill="#ee4f4c"/>
<rect x="667.0" y="316" width="3" height="8" fill="#ee4f4c"/>
<rect x="674.0" y="314" width="1" height="4" fill="#15479f"/>
<rect x="674.0" y="330" width="1" height="9" fill="#15479f"/>
<rect x="673.5" y="317.5" width="2" height="13" rx="0.9" ry="0.9" fill="#fff" stroke="#15479f" stroke-width="1.1"/>
<rect x="680.0" y="309" width="1" height="13" fill="#ee4f4c"/>
<rect x="679.0" y="313" width="3" height="7" fill="#ee4f4c"/>
<rect x="686.0" y="318" width="1" height="30" fill="#ee4f4c"/>
<rect x="685.0" y="318" width="3" height="30" fill="#ee4f4c"/>
<rect x="692.0" y="343" width="1" height="26" fill="#ee4f4c"/>
<rect x="691.0" y="356" width="3" height="8" fill="#ee4f4c"/>
<rect x="699.0" y="361" width="1" height="24" fill="#ee4f4c"/>
<rect x="698.0" y="371" width="3" height="12" fill="#ee4f4c"/>
<rect x="705.0" y="380" width="1" height="34" fill="#ee4f4c"/>
<rect x="704.0" y="391" width="3" height="5" fill="#ee4f4c"/>
<rect x="711.0" y="374" width="1" height="12" fill="#15479f"/>
<rect x="711.0" y="394" width="1" height="2" fill="#15479f"/>
<rect x="710.5" y="385.5" width="2" height="9" rx="0.9" ry="0.9" fill="#fff" stroke="#15479f" stroke-width="1.1"/>
<rect x="717.0" y="381" width="1" height="40" fill="#ee4f4c"/>
<rect x="716.0" y="385" width="3" height="35" fill="#ee4f4c"/>
<rect x="723.0" y="416" width="1" height="19" fill="#ee4f4c"/>
<rect x="722.0" y="420" width="3" height="12" fill="#ee4f4c"/>
<rect x="730.0" y="422" width="1" height="7" fill="#15479f"/>
<rect x="730.0" y="434" width="1" height="16" fill="#15479f"/>
<rect x="729.5" y="428.5" width="2" height="6" rx="0.9" ry="0.9" fill="#fff" stroke="#15479f" stroke-width="1.1"/>
<rect x="736.0" y="392" width="1" height="2" fill="#15479f"/>
<rect x="736.0" y="430" width="1" height="8" fill="#15479f"/>
<rect x="735.5" y="393.5" width="2" height="37" rx="0.9" ry="0.9" fill="#fff" stroke="#15479f" stroke-width="1.1"/>
<rect x="742.0" y="393" width="1" height="44" fill="#ee4f4c"/>
<rect x="741.0" y="394" width="3" height="36" fill="#ee4f4c"/>
<rect x="748.0" y="388" width="1" height="3" fill="#15479f"/>
<rect x="748.0" y="423" width="1" height="15" fill="#15479f"/>
<rect x="747.5" y="390.5" width="2" height="33" rx="0.9" ry="0.9" fill="#fff" stroke="#15479f" stroke-width="1.1"/>
<rect x="754.0" y="382" width="1" height="5" fill="#15479f"/>
<rect x="754.0" y="396" width="1" height="4" fill="#15479f"/>
<rect x="753.5" y="386.5" width="2" height="10" rx="0.9" ry="0.9" fill="#fff" stroke="#15479f" stroke-width="1.1"/>
<rect x="761.0" y="374" width="1" height="22" fill="#ee4f4c"/>
<rect x="760.0" y="385" width="3" height="9" fill="#ee4f4c"/>
<rect x="767.0" y="381" width="1" height="7" fill="#15479f"/>
<rect x="767.0" y="390" width="1" height="5" fill="#15479f"/>
<rect x="766.5" y="387.5" width="2" height="3" rx="0.9" ry="0.9" fill="#fff" stroke="#15479f" stroke-width="1.1"/>
<rect x="773.0" y="387" width="1" height="33" fill="#ee4f4c"/>
<rect x="772.0" y="389" width="3" height="31" fill="#ee4f4c"/>
<rect x="779.0" y="398" width="1" height="32" fill="#ee4f4c"/>
<rect x="778.0" y="420" width="3" height="10" fill="#ee4f4c"/>
<rect x="785.0" y="417" width="1" height="20" fill="#ee4f4c"/>
<rect x="784.0" y="432" width="3" height="2" fill="#ee4f4c"/>
<rect x="792.0" y="440" width="1" height="48" fill="#ee4f4c"/>
<rect x="791.0" y="451" width="3" height="27" fill="#ee4f4c"/>
<rect x="798.0" y="481" width="1" height="31" fill="#ee4f4c"/>
<rect x="797.0" y="489" width="3" height="2" fill="#ee4f4c"/>
<rect x="804.0" y="494" width="1" height="14" fill="#15479f"/>
<rect x="803.5" y="481.5" width="2" height="13" rx="0.9" ry="0.9" fill="#fff" stroke="#15479f" stroke-width="1.1"/>
<rect x="810.0" y="454" width="1" height="2" fill="#15479f"/>
<rect x="810.0" y="480" width="1" height="2" fill="#15479f"/>
<rect x="809.5" y="455.5" width="2" height="25" rx="0.9" ry="0.9" fill="#fff" stroke="#15479f" stroke-width="1.1"/>
<rect x="816.0" y="459" width="1" height="70" fill="#ee4f4c"/>
<rect x="815.0" y="461" width="3" height="31" fill="#ee4f4c"/>
<rect x="823.0" y="477" width="1" height="25" fill="#ee4f4c"/>
<rect x="822.0" y="490" width="3" height="7" fill="#ee4f4c"/>
<rect x="829.0" y="502" width="1" height="26" fill="#ee4f4c"/>
<rect x="828.0" y="506" width="3" height="10" fill="#ee4f4c"/>
<rect x="835.0" y="482" width="1" height="2" fill="#15479f"/>
<rect x="835.0" y="510" width="1" height="11" fill="#15479f"/>
<rect x="834.5" y="483.5" width="2" height="27" rx="0.9" ry="0.9" fill="#fff" stroke="#15479f" stroke-width="1.1"/>
<rect x="841.0" y="479" width="1" height="19" fill="#15479f"/>
<rect x="840.0" y="480" width="3" height="1" fill="#15479f" opacity="0.5"/>
<rect x="847.0" y="462" width="1" height="6" fill="#15479f"/>
<rect x="847.0" y="488" width="1" height="2" fill="#15479f"/>
<rect x="846.5" y="467.5" width="2" height="21" rx="0.9" ry="0.9" fill="#fff" stroke="#15479f" stroke-width="1.1"/>
<rect x="854.0" y="461" width="1" height="29" fill="#ee4f4c"/>
<rect x="853.0" y="465" width="3" height="7" fill="#ee4f4c"/>
<rect x="860.0" y="450" width="1" height="4" fill="#15479f"/>
<rect x="860.0" y="468" width="1" height="10" fill="#15479f"/>
<rect x="859.5" y="453.5" width="2" height="15" rx="0.9" ry="0.9" fill="#fff" stroke="#15479f" stroke-width="1.1"/>
<rect x="866.0" y="431" width="1" height="3" fill="#15479f"/>
<rect x="866.0" y="455" width="1" height="15" fill="#15479f"/>
<rect x="865.5" y="433.5" width="2" height="22" rx="0.9" ry="0.9" fill="#fff" stroke="#15479f" stroke-width="1.1"/>
<rect x="872.0" y="430" width="1" height="4" fill="#ee4f4c"/>
<rect x="872.0" y="438" width="1" height="14" fill="#ee4f4c"/>
<rect x="871.5" y="433.5" width="2" height="5" rx="0" ry="0" fill="#fff" stroke="#ee4f4c" stroke-width="1.1"/>
<rect x="878.0" y="409" width="1" height="5" fill="#15479f"/>
<rect x="878.0" y="428" width="1" height="9" fill="#15479f"/>
<rect x="877.5" y="413.5" width="2" height="15" rx="0.9" ry="0.9" fill="#fff" stroke="#15479f" stroke-width="1.1"/>
<rect x="885.0" y="408" width="1" height="22" fill="#ee4f4c"/>
<rect x="884.0" y="415" width="3" height="15" fill="#ee4f4c"/>
<rect x="891.0" y="429" width="1" height="22" fill="#ee4f4c"/>
<rect x="890.0" y="435" width="3" height="16" fill="#ee4f4c"/>
<rect x="897.0" y="449" width="1" height="28" fill="#ee4f4c"/>
<rect x="896.0" y="455" width="3" height="20" fill="#ee4f4c"/>
<rect x="903.0" y="441" width="1" height="3" fill="#15479f"/>
<rect x="902.5" y="443.5" width="2" height="27" rx="0.9" ry="0.9" fill="#fff" stroke="#15479f" stroke-width="1.1"/>
<rect x="909.0" y="437" width="1" height="47" fill="#ee4f4c"/>
<rect x="908.0" y="442" width="3" height="35" fill="#ee4f4c"/>
<rect x="916.0" y="478" width="1" height="45" fill="#ee4f4c"/>
<rect x="915.0" y="481" width="3" height="39" fill="#ee4f4c"/>
<rect x="922.0" y="515" width="1" height="25" fill="#ee4f4c"/>
<rect x="921.0" y="520" width="3" height="20" fill="#ee4f4c"/>
<rect x="928.0" y="509" width="1" height="35" fill="#ee4f4c"/>
<rect x="927.0" y="537" width="3" height="5" fill="#ee4f4c"/>
<rect x="934.0" y="536" width="1" height="48" fill="#ee4f4c"/>
<rect x="933.0" y="536" width="3" height="36" fill="#ee4f4c"/>
<rect x="940.0" y="538" width="1" height="18" fill="#15479f"/>
<rect x="940.0" y="560" width="1" height="10" fill="#15479f"/>
<rect x="939.5" y="555.5" width="2" height="5" rx="0.9" ry="0.9" fill="#fff" stroke="#15479f" stroke-width="1.1"/>
<rect x="947.0" y="504" width="1" height="2" fill="#15479f"/>
<rect x="947.0" y="550" width="1" height="6" fill="#15479f"/>
<rect x="946.5" y="505.5" width="2" height="45" rx="0.9" ry="0.9" fill="#fff" stroke="#15479f" stroke-width="1.1"/>
<rect x="953.0" y="505" width="1" height="35" fill="#ee4f4c"/>
<rect x="952.0" y="509" width="3" height="13" fill="#ee4f4c"/>
<rect x="959.0" y="459" width="1" height="3" fill="#15479f"/>
<rect x="959.0" y="513" width="1" height="14" fill="#15479f"/>
<rect x="958.5" y="461.5" width="2" height="52" rx="0.9" ry="0.9" fill="#fff" stroke="#15479f" stroke-width="1.1"/>
<rect x="965.0" y="459" width="1" height="25" fill="#ee4f4c"/>
<rect x="964.0" y="472" width="3" height="5" fill="#ee4f4c"/>
<rect x="971.0" y="453" width="1" height="7" fill="#15479f"/>
<rect x="971.0" y="479" width="1" height="8" fill="#15479f"/>
<rect x="970.5" y="459.5" width="2" height="20" rx="0.9" ry="0.9" fill="#fff" stroke="#15479f" stroke-width="1.1"/>
<rect x="978.0" y="448" width="1" height="9" fill="#15479f"/>
<rect x="978.0" y="464" width="1" height="21" fill="#15479f"/>
<rect x="977.5" y="456.5" width="2" height="8" rx="0.9" ry="0.9" fill="#fff" stroke="#15479f" stroke-width="1.1"/>
<rect x="984.0" y="460" width="1" height="15" fill="#ee4f4c"/>
<rect x="983.0" y="464" width="3" height="11" fill="#ee4f4c"/>
<rect x="990.0" y="447" width="1" height="41" fill="#ee4f4c"/>
<rect x="989.0" y="475" width="3" height="12" fill="#ee4f4c"/>
<rect x="996.0" y="486" width="1" height="17" fill="#ee4f4c"/>
<rect x="995.0" y="487" width="3" height="10" fill="#ee4f4c"/>
<rect x="1002.0" y="485" width="1" height="9" fill="#15479f"/>
<rect x="1002.0" y="497" width="1" height="4" fill="#15479f"/>
<rect x="1001.5" y="493.5" width="2" height="4" rx="0.9" ry="0.9" fill="#fff" stroke="#15479f" stroke-width="1.1"/>
<rect x="1009.0" y="471" width="1" height="3" fill="#15479f"/>
<rect x="1009.0" y="482" width="1" height="15" fill="#15479f"/>
<rect x="1008.5" y="473.5" width="2" height="9" rx="0.9" ry="0.9" fill="#fff" stroke="#15479f" stroke-width="1.1"/>
<rect x="1015.0" y="444" width="1" height="4" fill="#15479f"/>
<rect x="1015.0" y="469" width="1" height="4" fill="#15479f"/>
<rect x="1014.5" y="447.5" width="2" height="22" rx="0.9" ry="0.9" fill="#fff" stroke="#15479f" stroke-width="1.1"/>
<rect x="1021.0" y="436" width="1" height="10" fill="#15479f"/>
<rect x="1021.0" y="447" width="1" height="14" fill="#15479f"/>
<rect x="1020.5" y="445.5" width="2" height="2" rx="0.9" ry="0.9" fill="#fff" stroke="#15479f" stroke-width="1.1"/>
<rect x="1027.0" y="435" width="1" height="4" fill="#15479f"/>
<rect x="1027.0" y="445" width="1" height="11" fill="#15479f"/>
<rect x="1026.5" y="438.5" width="2" height="7" rx="0.9" ry="0.9" fill="#fff" stroke="#15479f" stroke-width="1.1"/>
<rect x="1033.0" y="418" width="1" height="21" fill="#ee4f4c"/>
<rect x="1033.0" y="443" width="1" height="5" fill="#ee4f4c"/>
<rect x="1032.5" y="438.5" width="2" height="5" rx="0" ry="0" fill="#fff" stroke="#ee4f4c" stroke-width="1.1"/>
<rect x="1040.0" y="436" width="1" height="21" fill="#ee4f4c"/>
<rect x="1039.0" y="446" width="3" height="6" fill="#ee4f4c"/>
<rect x="1046.0" y="440" width="1" height="25" fill="#ee4f4c"/>
<rect x="1045.0" y="449" width="3" height="7" fill="#ee4f4c"/>
<rect x="1052.0" y="460" width="1" height="24" fill="#ee4f4c"/>
<rect x="1051.0" y="461" width="3" height="20" fill="#ee4f4c"/>
<rect x="1058.0" y="474" width="1" height="25" fill="#15479f"/>
<rect x="1057.0" y="474" width="3" height="2" fill="#15479f"/>
<rect x="1064.0" y="466" width="1" height="41" fill="#ee4f4c"/>
<rect x="1063.0" y="475" width="3" height="31" fill="#ee4f4c"/>
<rect x="1071.0" y="483" width="1" height="11" fill="#15479f"/>
<rect x="1071.0" y="508" width="1" height="6" fill="#15479f"/>
<rect x="1070.5" y="493.5" width="2" height="15" rx="0.9" ry="0.9" fill="#fff" stroke="#15479f" stroke-width="1.1"/>
<rect x="1077.0" y="478" width="1" height="27" fill="#15479f"/>
<rect x="1076.0" y="493" width="3" height="1" fill="#15479f" opacity="0.5"/>
<rect x="1083.0" y="475" width="1" height="4" fill="#15479f"/>
<rect x="1083.0" y="487" width="1" height="11" fill="#15479f"/>
<rect x="1082.5" y="478.5" width="2" height="9" rx="0.9" ry="0.9" fill="#fff" stroke="#15479f" stroke-width="1.1"/>
<rect x="1089.0" y="467" width="1" height="26" fill="#ee4f4c"/>
<rect x="1088.0" y="481" width="3" height="4" fill="#ee4f4c"/>
<rect x="1095.0" y="470" width="1" height="4" fill="#15479f"/>
<rect x="1095.0" y="489" width="1" height="12" fill="#15479f"/>
<rect x="1094.5" y="473.5" width="2" height="16" rx="0.9" ry="0.9" fill="#fff" stroke="#15479f" stroke-width="1.1"/>
<rect x="1102.0" y="463" width="1" height="6" fill="#15479f"/>
<rect x="1101.5" y="468.5" width="2" height="8" rx="0.9" ry="0.9" fill="#fff" stroke="#15479f" stroke-width="1.1"/>
<rect x="1108.0" y="452" width="1" height="2" fill="#15479f"/>
<rect x="1108.0" y="466" width="1" height="21" fill="#15479f"/>
<rect x="1107.5" y="453.5" width="2" height="13" rx="0.9" ry="0.9" fill="#fff" stroke="#15479f" stroke-width="1.1"/>
<rect x="1114.0" y="448" width="1" height="27" fill="#ee4f4c"/>
<rect x="1113.0" y="454" width="3" height="11" fill="#ee4f4c"/>
<rect x="1120.0" y="451" width="1" height="7" fill="#15479f"/>
<rect x="1119.5" y="457.5" width="2" height="8" rx="0.9" ry="0.9" fill="#fff" stroke="#15479f" stroke-width="1.1"/>
<rect x="1126.0" y="441" width="1" height="9" fill="#15479f"/>
<rect x="1126.0" y="458" width="1" height="2" fill="#15479f"/>
<rect x="1125.5" y="449.5" width="2" height="9" rx="0.9" ry="0.9" fill="#fff" stroke="#15479f" stroke-width="1.1"/>
<rect x="1133.0" y="437" width="1" height="27" fill="#ee4f4c"/>
<rect x="1132.0" y="449" width="3" height="7" fill="#ee4f4c"/>
<rect x="1139.0" y="430" width="1" height="5" fill="#15479f"/>
<rect x="1139.0" y="448" width="1" height="8" fill="#15479f"/>
<rect x="1138.5" y="434.5" width="2" height="14" rx="0.9" ry="0.9" fill="#fff" stroke="#15479f" stroke-width="1.1"/>
<rect x="1145.0" y="422" width="1" height="2" fill="#15479f"/>
<rect x="1145.0" y="430" width="1" height="8" fill="#15479f"/>
<rect x="1144.5" y="423.5" width="2" height="7" rx="0.9" ry="0.9" fill="#fff" stroke="#15479f" stroke-width="1.1"/>
<rect x="1151.0" y="399" width="1" height="11" fill="#15479f"/>
<rect x="1150.5" y="409.5" width="2" height="15" rx="0.9" ry="0.9" fill="#fff" stroke="#15479f" stroke-width="1.1"/>
<rect x="1157.0" y="412" width="1" height="4" fill="#ee4f4c"/>
<rect x="1157.0" y="419" width="1" height="5" fill="#ee4f4c"/>
<rect x="1156.5" y="415.5" width="2" height="4" rx="0" ry="0" fill="#fff" stroke="#ee4f4c" stroke-width="1.1"/>
<rect x="1164.0" y="396" width="1" height="7" fill="#15479f"/>
<rect x="1164.0" y="415" width="1" height="5" fill="#15479f"/>
<rect x="1163.5" y="402.5" width="2" height="13" rx="0.9" ry="0.9" fill="#fff" stroke="#15479f" stroke-width="1.1"/>
<rect x="1170.0" y="401" width="1" height="12" fill="#ee4f4c"/>
<rect x="1169.0" y="405" width="3" height="7" fill="#ee4f4c"/>
<rect x="1176.0" y="381" width="1" height="3" fill="#15479f"/>
<rect x="1175.5" y="383.5" width="2" height="27" rx="0.9" ry="0.9" fill="#fff" stroke="#15479f" stroke-width="1.1"/>
<rect x="1182.0" y="372" width="1" height="3" fill="#15479f"/>
<rect x="1182.0" y="382" width="1" height="3" fill="#15479f"/>
<rect x="1181.5" y="374.5" width="2" height="8" rx="0.9" ry="0.9" fill="#fff" stroke="#15479f" stroke-width="1.1"/>
<rect x="1188.0" y="368" width="1" height="46" fill="#ee4f4c"/>
<rect x="1187.0" y="373" width="3" height="41" fill="#ee4f4c"/>
<rect x="1195.0" y="404" width="1" height="24" fill="#ee4f4c"/>
<rect x="1194.0" y="413" width="3" height="8" fill="#ee4f4c"/>
<rect x="1201.0" y="409" width="1" height="19" fill="#15479f"/>
<rect x="1200.0" y="419" width="3" height="1" fill="#15479f" opacity="0.5"/>
<rect x="1207.0" y="415" width="1" height="14" fill="#ee4f4c"/>
<rect x="1206.0" y="418" width="3" height="9" fill="#ee4f4c"/>
<rect x="1213.0" y="408" width="1" height="11" fill="#15479f"/>
<rect x="1213.0" y="426" width="1" height="7" fill="#15479f"/>
<rect x="1212.5" y="418.5" width="2" height="8" rx="0.9" ry="0.9" fill="#fff" stroke="#15479f" stroke-width="1.1"/>
<rect x="1219.0" y="407" width="1" height="4" fill="#15479f"/>
<rect x="1219.0" y="415" width="1" height="3" fill="#15479f"/>
<rect x="1218.5" y="410.5" width="2" height="5" rx="0.9" ry="0.9" fill="#fff" stroke="#15479f" stroke-width="1.1"/>
<rect x="1226.0" y="399" width="1" height="17" fill="#ee4f4c"/>
<rect x="1225.0" y="410" width="3" height="6" fill="#ee4f4c"/>
<rect x="1232.0" y="407" width="1" height="15" fill="#ee4f4c"/>
<rect x="1231.0" y="415" width="3" height="4" fill="#ee4f4c"/>
<rect x="1238.0" y="413" width="1" height="28" fill="#ee4f4c"/>
<rect x="1237.0" y="420" width="3" height="21" fill="#ee4f4c"/>
<rect x="1244.0" y="436" width="1" height="19" fill="#ee4f4c"/>
<rect x="1243.0" y="442" width="3" height="8" fill="#ee4f4c"/>
<rect x="1250.0" y="440" width="1" height="23" fill="#ee4f4c"/>
<rect x="1249.0" y="446" width="3" height="5" fill="#ee4f4c"/>
<rect x="1257.0" y="437" width="1" height="15" fill="#ee4f4c"/>
<rect x="1256.5" y="451.5" width="2" height="2" rx="0" ry="0" fill="#fff" stroke="#ee4f4c" stroke-width="1.1"/>
<rect x="1263.0" y="440" width="1" height="31" fill="#ee4f4c"/>
<rect x="1262.0" y="447" width="3" height="24" fill="#ee4f4c"/>
<rect x="1269.0" y="464" width="1" height="20" fill="#ee4f4c"/>
<rect x="1268.0" y="473" width="3" height="9" fill="#ee4f4c"/>
<rect x="1275.0" y="421" width="1" height="5" fill="#15479f"/>
<rect x="1275.0" y="478" width="1" height="6" fill="#15479f"/>
<rect x="1274.5" y="425.5" width="2" height="53" rx="0.9" ry="0.9" fill="#fff" stroke="#15479f" stroke-width="1.1"/>
<rect x="1280.5" y="410.5" width="2" height="16" rx="0.9" ry="0.9" fill="#fff" stroke="#15479f" stroke-width="1.1"/>
<rect x="1287.0" y="392" width="1" height="2" fill="#15479f"/>
<rect x="1286.5" y="393.5" width="2" height="17" rx="0.9" ry="0.9" fill="#fff" stroke="#15479f" stroke-width="1.1"/>
<rect x="1294.0" y="381" width="1" height="4" fill="#15479f"/>
<rect x="1293.5" y="384.5" width="2" height="9" rx="0.9" ry="0.9" fill="#fff" stroke="#15479f" stroke-width="1.1"/>
<rect x="1300.0" y="372" width="1" height="5" fill="#15479f"/>
<rect x="1300.0" y="388" width="1" height="2" fill="#15479f"/>
<rect x="1299.5" y="376.5" width="2" height="12" rx="0.9" ry="0.9" fill="#fff" stroke="#15479f" stroke-width="1.1"/>
<rect x="1306.0" y="371" width="1" height="15" fill="#ee4f4c"/>
<rect x="1305.0" y="380" width="3" height="5" fill="#ee4f4c"/>
<rect x="1312.0" y="353" width="1" height="7" fill="#15479f"/>
<rect x="1311.5" y="359.5" width="2" height="24" rx="0.9" ry="0.9" fill="#fff" stroke="#15479f" stroke-width="1.1"/>
<rect x="1318.0" y="355" width="1" height="14" fill="#ee4f4c"/>
<rect x="1317.0" y="359" width="3" height="3" fill="#ee4f4c"/>
<rect x="1325.0" y="350" width="1" height="5" fill="#15479f"/>
<rect x="1324.5" y="354.5" width="2" height="7" rx="0.9" ry="0.9" fill="#fff" stroke="#15479f" stroke-width="1.1"/>
<rect x="1331.0" y="354" width="1" height="17" fill="#ee4f4c"/>
<rect x="1330.0" y="355" width="3" height="15" fill="#ee4f4c"/>
<rect x="1337.0" y="355" width="1" height="5" fill="#15479f"/>
<rect x="1337.0" y="365" width="1" height="4" fill="#15479f"/>
<rect x="1336.5" y="359.5" width="2" height="6" rx="0.9" ry="0.9" fill="#fff" stroke="#15479f" stroke-width="1.1"/>
<rect x="1343.0" y="351" width="1" height="2" fill="#15479f"/>
<rect x="1342.5" y="352.5" width="2" height="9" rx="0.9" ry="0.9" fill="#fff" stroke="#15479f" stroke-width="1.1"/>
<rect x="1349.0" y="343" width="1" height="5" fill="#15479f"/>
<rect x="1349.0" y="349" width="1" height="2" fill="#15479f"/>
<rect x="1348.5" y="347.5" width="2" height="2" rx="0.9" ry="0.9" fill="#fff" stroke="#15479f" stroke-width="1.1"/>
<rect x="1356.0" y="335" width="1" height="5" fill="#15479f"/>
<rect x="1356.0" y="346" width="1" height="3" fill="#15479f"/>
<rect x="1355.5" y="339.5" width="2" height="7" rx="0.9" ry="0.9" fill="#fff" stroke="#15479f" stroke-width="1.1"/>
<rect x="1362.0" y="331" width="1" height="47" fill="#ee4f4c"/>
<rect x="1361.0" y="343" width="3" height="15" fill="#ee4f4c"/>
<rect x="1368.0" y="356" width="1" height="25" fill="#ee4f4c"/>
<rect x="1367.0" y="356" width="3" height="19" fill="#ee4f4c"/>
<rect x="1374.0" y="354" width="1" height="4" fill="#15479f"/>
<rect x="1374.0" y="374" width="1" height="3" fill="#15479f"/>
<rect x="1373.5" y="357.5" width="2" height="17" rx="0.9" ry="0.9" fill="#fff" stroke="#15479f" stroke-width="1.1"/>
<rect x="1380.0" y="355" width="1" height="16" fill="#ee4f4c"/>
<rect x="1379.0" y="358" width="3" height="10" fill="#ee4f4c"/>
<rect x="1387.0" y="365" width="1" height="11" fill="#ee4f4c"/>
<rect x="1386.0" y="368" width="3" height="1" fill="#ee4f4c" opacity="0.5"/>
<rect x="1393.0" y="365" width="1" height="15" fill="#ee4f4c"/>
<rect x="1392.0" y="370" width="3" height="6" fill="#ee4f4c"/>
<rect x="1399.0" y="365" width="1" height="15" fill="#ee4f4c"/>
<rect x="1398.0" y="373" width="3" height="7" fill="#ee4f4c"/>
<rect x="1405.0" y="370" width="1" height="3" fill="#15479f"/>
<rect x="1405.0" y="380" width="1" height="7" fill="#15479f"/>
<rect x="1404.5" y="372.5" width="2" height="8" rx="0.9" ry="0.9" fill="#fff" stroke="#15479f" stroke-width="1.1"/>
<rect x="1411.0" y="358" width="1" height="7" fill="#15479f"/>
<rect x="1411.0" y="367" width="1" height="8" fill="#15479f"/>
<rect x="1410.5" y="364.5" width="2" height="3" rx="0.9" ry="0.9" fill="#fff" stroke="#15479f" stroke-width="1.1"/>
<rect x="1418.0" y="357" width="1" height="25" fill="#ee4f4c"/>
<rect x="1417.0" y="364" width="3" height="18" fill="#ee4f4c"/>
<rect x="1424.0" y="375" width="1" height="18" fill="#ee4f4c"/>
<rect x="1423.0" y="376" width="3" height="12" fill="#ee4f4c"/>
<rect x="1430.0" y="366" width="1" height="27" fill="#15479f"/>
<rect x="1429.0" y="383" width="3" height="2" fill="#15479f"/>
<rect x="1436.0" y="381" width="1" height="11" fill="#15479f"/>
<rect x="1435.5" y="372.5" width="2" height="9" rx="0.9" ry="0.9" fill="#fff" stroke="#15479f" stroke-width="1.1"/>
<rect x="1442.0" y="360" width="1" height="5" fill="#15479f"/>
<rect x="1442.0" y="369" width="1" height="8" fill="#15479f"/>
<rect x="1441.5" y="364.5" width="2" height="5" rx="0.9" ry="0.9" fill="#fff" stroke="#15479f" stroke-width="1.1"/>
<rect x="1449.0" y="363" width="1" height="15" fill="#15479f"/>
<rect x="1448.5" y="352.5" width="2" height="11" rx="0.9" ry="0.9" fill="#fff" stroke="#15479f" stroke-width="1.1"/>
<rect x="1455.0" y="352" width="1" height="8" fill="#ee4f4c"/>
<rect x="1454.0" y="355" width="3" height="3" fill="#ee4f4c"/>
<rect x="1461.0" y="357" width="1" height="22" fill="#ee4f4c"/>
<rect x="1460.0" y="359" width="3" height="11" fill="#ee4f4c"/>
<rect x="1467.0" y="356" width="1" height="16" fill="#15479f"/>
<rect x="1466.0" y="368" width="3" height="1" fill="#15479f" opacity="0.5"/>
<rect x="1473.0" y="353" width="1" height="9" fill="#15479f"/>
<rect x="1473.0" y="369" width="1" height="3" fill="#15479f"/>
<rect x="1472.5" y="361.5" width="2" height="8" rx="0.9" ry="0.9" fill="#fff" stroke="#15479f" stroke-width="1.1"/>
<rect x="1480.0" y="354" width="1" height="2" fill="#15479f"/>
<rect x="1479.5" y="355.5" width="2" height="9" rx="0.9" ry="0.9" fill="#fff" stroke="#15479f" stroke-width="1.1"/>
<rect x="1486.0" y="342" width="1" height="7" fill="#15479f"/>
<rect x="1486.0" y="354" width="1" height="3" fill="#15479f"/>
<rect x="1485.5" y="348.5" width="2" height="6" rx="0.9" ry="0.9" fill="#fff" stroke="#15479f" stroke-width="1.1"/>
<rect x="1492.0" y="339" width="1" height="2" fill="#15479f"/>
<rect x="1492.0" y="345" width="1" height="5" fill="#15479f"/>
<rect x="1491.5" y="340.5" width="2" height="5" rx="0.9" ry="0.9" fill="#fff" stroke="#15479f" stroke-width="1.1"/>
<rect x="1498.0" y="309" width="1" height="5" fill="#15479f"/>
<rect x="1497.5" y="313.5" width="2" height="25" rx="0.9" ry="0.9" fill="#fff" stroke="#15479f" stroke-width="1.1"/>
<rect x="1504.0" y="300" width="1" height="12" fill="#15479f"/>
<rect x="1503.0" y="311" width="3" height="1" fill="#15479f" opacity="0.5"/>
<rect x="1511.0" y="292" width="1" height="9" fill="#15479f"/>
<rect x="1511.0" y="305" width="1" height="7" fill="#15479f"/>
<rect x="1510.5" y="300.5" width="2" height="5" rx="0.9" ry="0.9" fill="#fff" stroke="#15479f" stroke-width="1.1"/>
<rect x="1517.0" y="287" width="1" height="23" fill="#ee4f4c"/>
<rect x="1516.0" y="299" width="3" height="5" fill="#ee4f4c"/>
<rect x="1523.0" y="300" width="1" height="3" fill="#15479f"/>
<rect x="1523.0" y="312" width="1" height="12" fill="#15479f"/>
<rect x="1522.5" y="302.5" width="2" height="10" rx="0.9" ry="0.9" fill="#fff" stroke="#15479f" stroke-width="1.1"/>
<rect x="1529.0" y="292" width="1" height="8" fill="#15479f"/>
<rect x="1529.0" y="302" width="1" height="5" fill="#15479f"/>
<rect x="1528.5" y="299.5" width="2" height="3" rx="0.9" ry="0.9" fill="#fff" stroke="#15479f" stroke-width="1.1"/>
</g>
<path d="M669 487.2 Q1000 699 1332 484.5" fill="none" stroke="#4079b2" stroke-width="2.25"/>
<path d="M1337.8 383.5 Q1433.8 441.6 1529.8 381.3" fill="none" stroke="#4079b2" stroke-width="2.25"/>
<rect x="21" y="312" width="1878" height="3" fill="#000"/>
<rect x="668" y="268" width="1" height="24" fill="#222"/>
<path d="M663.4 288.6 L668.5 289.7 L673.6 288.6 L668.5 298.8 Z" fill="#222"/>
<rect x="1860" y="290.2" width="49" height="18.5" fill="#747676"/>
<text x="1864.7" y="303" font-family="'DejaVu Sans','Liberation Sans',sans-serif" font-weight="bold" font-size="10.5" fill="#fff" textLength="37.4" lengthAdjust="spacingAndGlyphs">490.87</text>
<text x="1866.3" y="92.9" font-family="'DejaVu Sans','Liberation Sans',sans-serif" font-size="10.5" fill="#111" textLength="37" lengthAdjust="spacingAndGlyphs">734.80</text>
<text x="1866.3" y="146.58" font-family="'DejaVu Sans','Liberation Sans',sans-serif" font-size="10.5" fill="#111" textLength="37" lengthAdjust="spacingAndGlyphs">660.85</text>
<text x="1866.3" y="200.26" font-family="'DejaVu Sans','Liberation Sans',sans-serif" font-size="10.5" fill="#111" textLength="37" lengthAdjust="spacingAndGlyphs">594.34</text>
<text x="1866.3" y="253.94" font-family="'DejaVu Sans','Liberation Sans',sans-serif" font-size="10.5" fill="#111" textLength="37" lengthAdjust="spacingAndGlyphs">534.52</text>
<text x="1866.3" y="361.3" font-family="'DejaVu Sans','Liberation Sans',sans-serif" font-size="10.5" fill="#111" textLength="37" lengthAdjust="spacingAndGlyphs">432.35</text>
<text x="1866.3" y="414.98" font-family="'DejaVu Sans','Liberation Sans',sans-serif" font-size="10.5" fill="#111" textLength="37" lengthAdjust="spacingAndGlyphs">388.83</text>
<text x="1866.3" y="468.66" font-family="'DejaVu Sans','Liberation Sans',sans-serif" font-size="10.5" fill="#111" textLength="37" lengthAdjust="spacingAndGlyphs">349.70</text>
<text x="1866.3" y="522.34" font-family="'DejaVu Sans','Liberation Sans',sans-serif" font-size="10.5" fill="#111" textLength="37" lengthAdjust="spacingAndGlyphs">314.51</text>
<text x="1866.3" y="576.02" font-family="'DejaVu Sans','Liberation Sans',sans-serif" font-size="10.5" fill="#111" textLength="37" lengthAdjust="spacingAndGlyphs">282.85</text>
<text x="1866.3" y="629.7" font-family="'DejaVu Sans','Liberation Sans',sans-serif" font-size="10.5" fill="#111" textLength="37" lengthAdjust="spacingAndGlyphs">254.39</text>
<text x="1866.3" y="683.38" font-family="'DejaVu Sans','Liberation Sans',sans-serif" font-size="10.5" fill="#111" textLength="37" lengthAdjust="spacingAndGlyphs">228.78</text>
<text x="1866.3" y="737.06" font-family="'DejaVu Sans','Liberation Sans',sans-serif" font-size="10.5" fill="#111" textLength="37" lengthAdjust="spacingAndGlyphs">205.76</text>
<text x="1866.3" y="790.74" font-family="'DejaVu Sans','Liberation Sans',sans-serif" font-size="10.5" fill="#111" textLength="37" lengthAdjust="spacingAndGlyphs">185.05</text>
<rect x="21" y="856.2" width="1509.3" height="78" fill="#ecedfb"/>
<rect x="21" y="894.7" width="1509.3" height="1" fill="#c9caf1"/>
<polyline fill="none" stroke="#3b44ea" stroke-width="1.2" stroke-linejoin="round" points="21,861.6 23.5,861.3 29.5,858.7 35.5,855.9 42.5,845.5 48.5,840.1 54.5,844.2 60.5,847.3 66.5,845.8 73.5,837.2 79.5,861 85.5,900.8 91.5,895.4 97.5,915.6 104.5,935.6 110.5,910.2 116.5,910.5 122.5,883.9 128.5,884.6 135.5,883.9 141.5,882.6 147.5,876.5 153.5,873.8 159.5,869.5 166.5,863 172.5,859.7 178.5,873.6 184.5,870.2 190.5,872.2 197.5,865.7 203.5,857.7 209.5,856.3 215.5,861 221.5,860.8 228.5,864.1 234.5,861.4 240.5,856.3 246.5,854 252.5,877.2 259.5,874.9 265.5,873.4 271.5,872.1 277.5,865.5 283.5,871.8 290.5,881.2 296.5,891.4 302.5,904.6 308.5,881.2 314.5,889.7 321.5,893.4 327.5,890.7 333.5,892.7 339.5,903.2 345.5,905.2 352.5,909.5 358.5,898.4 364.5,900.4 370.5,915.2 376.5,906.9 383.5,905.1 389.5,898.8 395.5,886.6 401.5,886.9 407.5,895.7 414.5,891.1 420.5,882.6 426.5,881.5 432.5,872.9 438.5,870.9 445.5,866.7 451.5,861 457.5,855.6 463.5,854.3 469.5,854 476.5,868.4 482.5,871.5 488.5,870.1 494.5,866.1 500.5,860.1 507.5,862.8 513.5,849.6 519.5,848.5 525.5,848.5 531.5,848.9 538.5,846.2 544.5,840.8 550.5,834.7 556.5,834.5 562.5,842.6 569.5,842.2 575.5,835.4 581.5,838.5 587.5,846.2 593.5,842.2 600.5,879 606.5,877.6 612.5,867.1 618.5,862.4 624.5,849.8 631.5,864.4 637.5,872.5 643.5,867.8 649.5,874.9 655.5,874.2 661.5,863.3 668.5,869.5 674.5,866.1 680.5,867.8 686.5,892.7 692.5,903.5 699.5,912.9 705.5,919 711.5,912.2 717.5,925 723.5,929.8 730.5,927.7 736.5,906.2 742.5,919.7 748.5,900.8 754.5,898.8 761.5,901.7 767.5,898.5 773.5,911.9 779.5,915.2 785.5,916.7 792.5,928.8 798.5,932.2 804.5,928 810.5,915.3 816.5,924.4 823.5,925.7 829.5,930.7 835.5,915.6 841.5,914.3 847.5,908.5 854.5,909.8 860.5,901.5 866.5,892.7 872.5,892.4 878.5,883.7 885.5,891.4 891.5,900.8 897.5,910 903.5,896.7 909.5,908.2 916.5,919.7 922.5,924 928.5,924.4 934.5,930.7 940.5,924 947.5,905.5 953.5,909.5 959.5,890.4 965.5,895 971.5,890 978.5,889.1 984.5,895.4 990.5,899 996.5,902.4 1002.5,901.2 1009.5,894 1015.5,884.4 1021.5,883.3 1027.5,880.5 1033.5,880.6 1040.5,887.3 1046.5,890 1052.5,901.5 1058.5,899.4 1064.5,911.6 1071.5,905.5 1077.5,905.2 1083.5,897.4 1089.5,900.5 1095.5,894.7 1102.5,891.4 1108.5,883.7 1114.5,891.1 1120.5,887 1126.5,882.6 1133.5,887 1139.5,875.9 1145.5,870.5 1151.5,864.4 1157.5,869.5 1164.5,863.4 1170.5,871.5 1176.5,859.4 1182.5,856 1188.5,883.3 1195.5,887.3 1201.5,886.6 1207.5,891.4 1213.5,886.9 1219.5,882.6 1226.5,885.7 1232.5,888.3 1238.5,901.9 1244.5,906.4 1250.5,907.5 1257.5,907.8 1263.5,918.3 1269.5,923 1275.5,889 1281.5,881 1287.5,873.7 1294.5,869.8 1300.5,866.5 1306.5,872.3 1312.5,862.4 1318.5,863.3 1325.5,860.7 1331.5,872.6 1337.5,867.9 1343.5,865 1349.5,862.4 1356.5,858.9 1362.5,874.5 1368.5,887.2 1374.5,878.1 1380.5,885 1387.5,886.1 1393.5,890.4 1399.5,893.6 1405.5,888.7 1411.5,884.2 1418.5,895.8 1424.5,900.1 1430.5,897.4 1436.5,889.7 1442.5,883.9 1449.5,876.6 1455.5,880.3 1461.5,890.9 1467.5,890.1 1473.5,885 1480.5,880.7 1486.5,875.6 1492.5,870.1 1498.5,854.9 1504.5,854.1 1511.5,849.5 1517.5,854.4 1523.5,853 1529.5,852"/>
<text x="1898.4" y="842" text-anchor="end" font-family="'DejaVu Sans','Liberation Sans',sans-serif" font-size="10.5" fill="#111" textLength="30.3" lengthAdjust="spacingAndGlyphs">80.00</text>
<text x="1898.4" y="881" text-anchor="end" font-family="'DejaVu Sans','Liberation Sans',sans-serif" font-size="10.5" fill="#111" textLength="30.3" lengthAdjust="spacingAndGlyphs">60.00</text>
<text x="1898.4" y="920" text-anchor="end" font-family="'DejaVu Sans','Liberation Sans',sans-serif" font-size="10.5" fill="#111" textLength="30.3" lengthAdjust="spacingAndGlyphs">40.00</text>
<text x="1898.4" y="942.8" text-anchor="end" font-family="'DejaVu Sans','Liberation Sans',sans-serif" font-size="9.6" fill="#111" textLength="88" lengthAdjust="spacingAndGlyphs">Your local time zone</text>
<rect x="21" y="946" width="1877.5" height="1" fill="#000"/>
<rect x="37" y="946" width="1" height="9.8" fill="#000"/>
<text x="39.2" y="964.7" text-anchor="middle" font-family="'DejaVu Sans','Liberation Sans',sans-serif" font-size="10.5" fill="#111" textLength="36.3" lengthAdjust="spacingAndGlyphs">Jan '20</text>
<rect x="144" y="946" width="1" height="9.8" fill="#000"/>
<text x="144.7" y="964.7" text-anchor="middle" font-family="'DejaVu Sans','Liberation Sans',sans-serif" font-size="10.5" fill="#111" textLength="40.4" lengthAdjust="spacingAndGlyphs">May '20</text>
<rect x="253" y="946" width="1" height="9.8" fill="#000"/>
<text x="253.9" y="964.7" text-anchor="middle" font-family="'DejaVu Sans','Liberation Sans',sans-serif" font-size="10.5" fill="#111" textLength="38.4" lengthAdjust="spacingAndGlyphs">Sep '20</text>
<rect x="361" y="946" width="1" height="9.8" fill="#000"/>
<text x="361.7" y="964.7" text-anchor="middle" font-family="'DejaVu Sans','Liberation Sans',sans-serif" font-size="10.5" fill="#111" textLength="36.3" lengthAdjust="spacingAndGlyphs">Jan '21</text>
<rect x="467" y="946" width="1" height="9.8" fill="#000"/>
<text x="467.8" y="964.7" text-anchor="middle" font-family="'DejaVu Sans','Liberation Sans',sans-serif" font-size="10.5" fill="#111" textLength="40.4" lengthAdjust="spacingAndGlyphs">May '21</text>
<rect x="576" y="946" width="1" height="9.8" fill="#000"/>
<text x="576.6" y="964.7" text-anchor="middle" font-family="'DejaVu Sans','Liberation Sans',sans-serif" font-size="10.5" fill="#111" textLength="38.4" lengthAdjust="spacingAndGlyphs">Sep '21</text>
<rect x="684" y="946" width="1" height="9.8" fill="#000"/>
<text x="685.3" y="964.7" text-anchor="middle" font-family="'DejaVu Sans','Liberation Sans',sans-serif" font-size="10.5" fill="#111" textLength="36.3" lengthAdjust="spacingAndGlyphs">Jan '22</text>
<rect x="791" y="946" width="1" height="9.8" fill="#000"/>
<text x="791.8" y="964.7" text-anchor="middle" font-family="'DejaVu Sans','Liberation Sans',sans-serif" font-size="10.5" fill="#111" textLength="40.4" lengthAdjust="spacingAndGlyphs">May '22</text>
<rect x="899" y="946" width="1" height="9.8" fill="#000"/>
<text x="899.9" y="964.7" text-anchor="middle" font-family="'DejaVu Sans','Liberation Sans',sans-serif" font-size="10.5" fill="#111" textLength="38.4" lengthAdjust="spacingAndGlyphs">Sep '22</text>
<rect x="1007" y="946" width="1" height="9.8" fill="#000"/>
<text x="1007.8" y="964.7" text-anchor="middle" font-family="'DejaVu Sans','Liberation Sans',sans-serif" font-size="10.5" fill="#111" textLength="36.3" lengthAdjust="spacingAndGlyphs">Jan '23</text>
<rect x="1114" y="946" width="1" height="9.8" fill="#000"/>
<text x="1114.9" y="964.7" text-anchor="middle" font-family="'DejaVu Sans','Liberation Sans',sans-serif" font-size="10.5" fill="#111" textLength="40.4" lengthAdjust="spacingAndGlyphs">May '23</text>
<rect x="1223" y="946" width="1" height="9.8" fill="#000"/>
<text x="1223.7" y="964.7" text-anchor="middle" font-family="'DejaVu Sans','Liberation Sans',sans-serif" font-size="10.5" fill="#111" textLength="38.4" lengthAdjust="spacingAndGlyphs">Sep '23</text>
<rect x="1331" y="946" width="1" height="9.8" fill="#000"/>
<text x="1332" y="964.7" text-anchor="middle" font-family="'DejaVu Sans','Liberation Sans',sans-serif" font-size="10.5" fill="#111" textLength="36.3" lengthAdjust="spacingAndGlyphs">Jan '24</text>
<rect x="1438" y="946" width="1" height="9.8" fill="#000"/>
<text x="1439" y="964.7" text-anchor="middle" font-family="'DejaVu Sans','Liberation Sans',sans-serif" font-size="10.5" fill="#111" textLength="40.4" lengthAdjust="spacingAndGlyphs">May '24</text>
<rect x="1547" y="946" width="1" height="9.8" fill="#000"/>
<text x="1548" y="964.7" text-anchor="middle" font-family="'DejaVu Sans','Liberation Sans',sans-serif" font-size="10.5" fill="#111" textLength="38.4" lengthAdjust="spacingAndGlyphs">Sep '24</text>
<rect x="1655" y="946" width="1" height="9.8" fill="#000"/>
<text x="1656" y="964.7" text-anchor="middle" font-family="'DejaVu Sans','Liberation Sans',sans-serif" font-size="10.5" fill="#111" textLength="36.3" lengthAdjust="spacingAndGlyphs">Jan '25</text>
<rect x="1761" y="946" width="1" height="9.8" fill="#000"/>
<text x="1762" y="964.7" text-anchor="middle" font-family="'DejaVu Sans','Liberation Sans',sans-serif" font-size="10.5" fill="#111" textLength="40.4" lengthAdjust="spacingAndGlyphs">May '25</text>
<rect x="1870" y="946" width="1" height="9.8" fill="#000"/>
<text x="1870.7" y="964.7" text-anchor="middle" font-family="'DejaVu Sans','Liberation Sans',sans-serif" font-size="10.5" fill="#111" textLength="38.4" lengthAdjust="spacingAndGlyphs">Sep '25</text>
<g fill="none" stroke="#3e4042" stroke-width="0.85">
<circle cx="38.4" cy="27.4" r="2.0"/>
<circle cx="27.0" cy="29.65" r="1.6"/>
<circle cx="34.0" cy="31.9" r="1.55"/>
<circle cx="22.5" cy="36.4" r="2.05"/>
<circle cx="30.0" cy="36.8" r="1.5"/>
<circle cx="35.3" cy="39.0" r="1.6"/>
<circle cx="42.2" cy="42.0" r="2.05"/>
<circle cx="27.0" cy="44.6" r="1.85"/>
<path d="M27.75 31.2 L29.3 35.4 M29.3 38.2 L27.8 42.8"/>
</g>
<text x="50.3" y="42.9" font-family="'Liberation Sans',sans-serif" font-size="23" font-weight="bold" fill="#111" textLength="68" lengthAdjust="spacingAndGlyphs">Trend</text>
<text x="116.6" y="42.9" font-family="'Liberation Sans',sans-serif" font-size="23" fill="#222" stroke="#fff" stroke-width="0.55" paint-order="fill stroke" textLength="74.6" lengthAdjust="spacingAndGlyphs">Spider</text>
<text x="204" y="39.6" font-family="'DejaVu Sans','Liberation Sans',sans-serif" font-size="12" fill="#222" textLength="153.8" lengthAdjust="spacingAndGlyphs">Aug 17, 2024 1:26PM EDT</text>
<text x="23" y="71.9" font-family="'DejaVu Sans','Liberation Sans',sans-serif" font-size="12" fill="#222" textLength="317" lengthAdjust="spacingAndGlyphs">SPGI, Weekly, Hollow Candles chart (Logarithmic scale)</text>
<text x="20" y="985.7" font-family="'Liberation Sans',sans-serif" font-size="9.7" fill="#222" textLength="87.3" lengthAdjust="spacingAndGlyphs">©2024 TrendSpider</text>
</svg>
</body></html>
